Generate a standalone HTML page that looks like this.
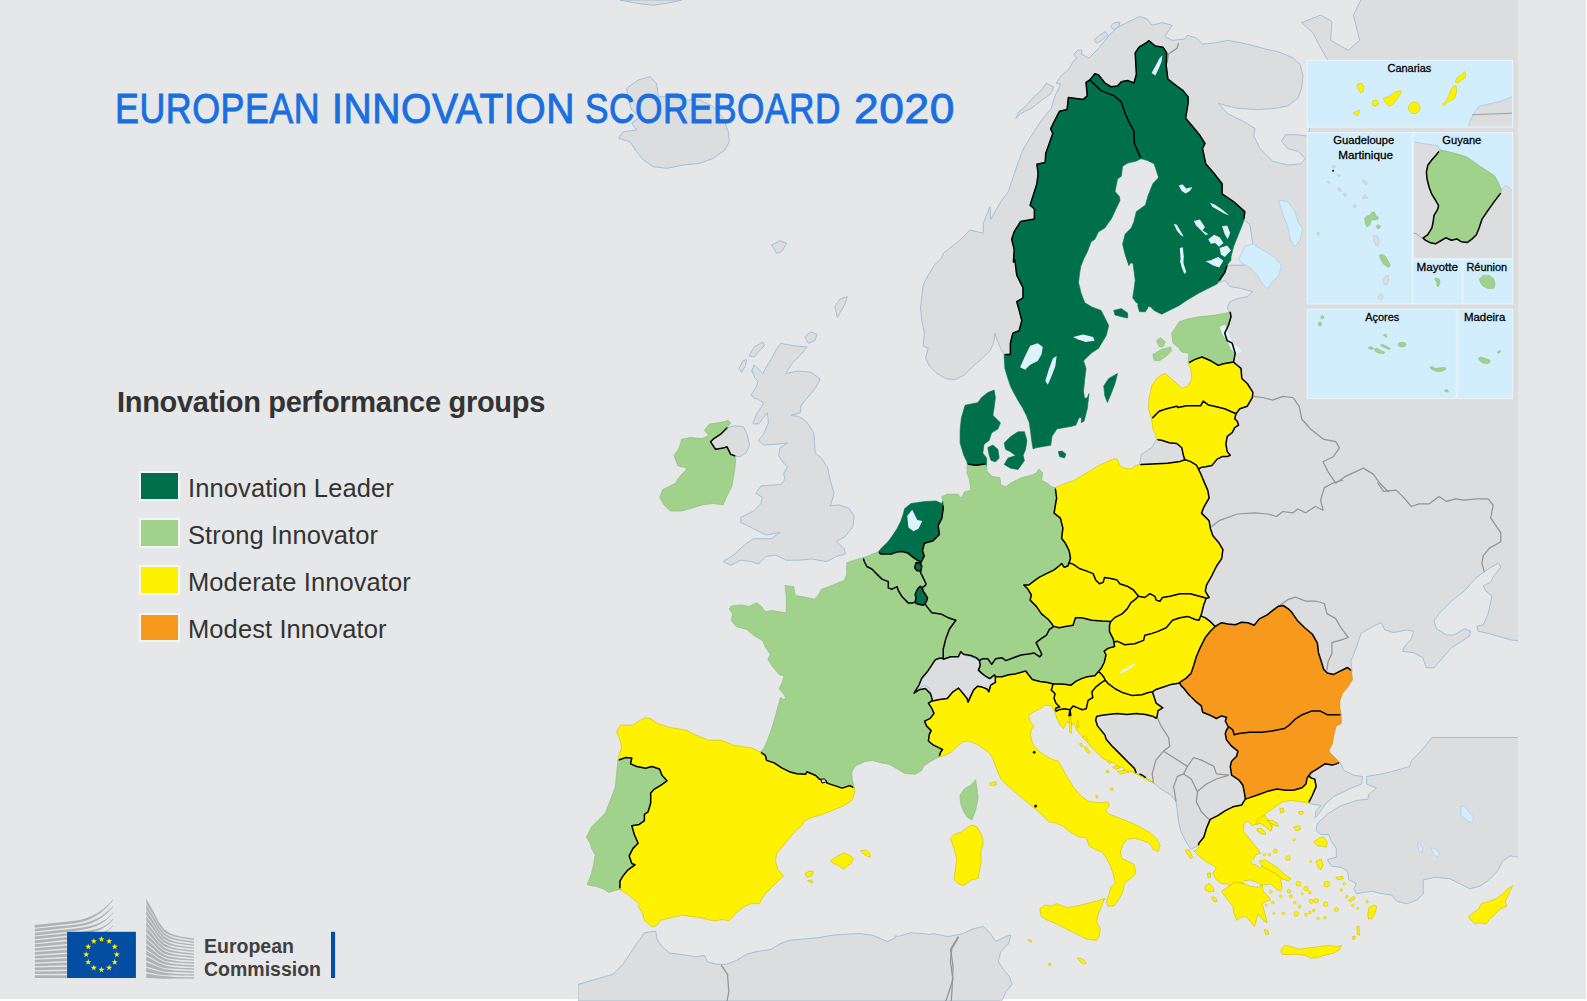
<!DOCTYPE html>
<html><head><meta charset="utf-8"><title>European Innovation Scoreboard 2020</title>
<style>
html,body{margin:0;padding:0;background:#fff;}
body{width:1587px;height:1001px;overflow:hidden;position:relative;font-family:"Liberation Sans",sans-serif;}
#bg{position:absolute;left:0;top:0;width:1586px;height:999px;background:#e6e7e8;}
svg{position:absolute;left:0;top:0;}
.tw{position:absolute;top:85px;font-size:41.6px;line-height:48px;color:#1a6fe0;white-space:nowrap;transform-origin:0 0;-webkit-text-stroke:0.9px #1a6fe0;letter-spacing:0.6px;}
#sub{position:absolute;left:117px;top:385px;font-size:29px;line-height:34px;font-weight:bold;color:#333;white-space:nowrap;letter-spacing:-0.3px;}
.lg{position:absolute;left:139px;width:37px;height:25.5px;border:2px solid #f4f5f5;}
.lt{position:absolute;left:188px;font-size:25.5px;line-height:30px;color:#333;white-space:nowrap;letter-spacing:0.1px;}
#ec{position:absolute;left:204px;top:935px;font-size:19.5px;line-height:23px;color:#404040;font-weight:bold;white-space:nowrap;}
</style></head><body>
<div id="bg"></div>
<svg width="1587" height="1001" viewBox="0 0 1587 1001">
<defs><clipPath id="mc"><rect x="578" y="0" width="940" height="1001"/></clipPath></defs>
<g clip-path="url(#mc)">
<path d="M620,0 L636.7,3.3 L653.3,5.3 L670,2.7 L681.7,0ZM623.3,131.7 L618.3,138.3 L630,141.7 L636.7,151.7 L643.3,160 L653.3,166.7 L666.7,168.3 L683.3,165 L700,163.3 L713.3,158.3 L725,150 L729.3,141.7 L728.3,131.7 L723.3,118.3 L713.3,106.7 L700,100 L683.3,100 L670,96.7 L658.3,96.7 L656.7,83.3 L650,76.7 L638.3,80 L626.7,88.3 L628.3,100 L631.7,110 L640,116.7 L631.7,123.3 L636.7,130ZM776.7,253.3 L781.7,251.7 L786.7,243.3 L780,240.7 L771.7,245ZM839.9,299.1 L834.8,306.7 L837.4,317.5 L839.9,313 L844.9,304.2 L847.4,296.6ZM808.4,343.3 L814.7,340.7 L817.2,334.4 L810.9,331.9 L804.6,337ZM749.1,355.9 L754.2,357.1 L759.2,350.8 L764.3,345.8 L763,342 L754.2,347ZM739.1,368.5 L741.6,372.2 L745.4,365.9 L746.6,359.6 L742.8,360.9ZM751.7,371 L755.5,378.5 L758.1,381.2 L755.9,387.6 L752.3,393 L751.7,393.7 L751.8,393.8 L750.9,395.1 L753,396.4 L754.2,398.7 L756.9,398.7 L763.5,402.7 L761.3,407 L756.7,413.8 L754.5,419.5 L753.4,421.6 L753.7,421.8 L752.9,423.9 L756.7,423.9 L757,423.4 L758.5,424.1 L767.3,412.8 L768.5,422.8 L763.5,434.2 L758.5,440.5 L763.5,445 L776.1,444.3 L787.4,443 L779.9,448.1 L778.6,455.6 L783.7,463.2 L787.4,467 L783.7,473.3 L784.9,479.6 L781.1,484.6 L761,485.9 L755.9,493.4 L762.2,497.2 L761,503.5 L753.4,511.1 L740.8,517.4 L740.8,522.4 L753.4,528.7 L766,535 L779.9,532.5 L771.1,538.8 L753.4,538.8 L745.9,543.8 L733.3,555.2 L723.2,561.5 L730.7,565.3 L740.8,560.2 L750.9,561.5 L758.5,564 L766,556.4 L776.1,555.2 L786.2,560.2 L798.8,560.2 L811.4,559 L826.5,561.5 L836.6,556.4 L845.4,553.9 L844.2,548.9 L836.6,541.3 L845.4,536.3 L853,526.2 L854.2,516.1 L849.2,508.5 L839.1,504.8 L830.3,506 L834.1,493.4 L830.3,480.8 L827.8,468.2 L821.5,458.1 L815.2,453.1 L813.9,432.9 L806.4,421.6 L798.8,416.5 L791.2,415.3 L800.1,412.8 L801.3,405.2 L806.4,398.9 L813.9,390.1 L814.7,388.8 L815.9,387.4 L816.6,385.8 L820.2,380 L819.1,380 L819.7,378.5 L810.9,372.2 L798.3,371 L785.7,373.5 L788.2,369.7 L792,363.4 L799.6,355.9 L807.1,347 L793.3,345.8 L780.7,343.3 L775.6,350.8 L771.8,358.4 L766.8,365.9 L763,373.5 L754.2,364.7ZM727,446.8 L730.7,454.4 L735.8,456.1 L739.6,456.9 L745.9,453.1 L749.6,445.5 L747.1,434.2 L743.3,426.6 L734.5,425.9 L727,427.9 L720.7,434.2 L713.1,439.2 L710.6,441.8 L715.6,449.3 L723.2,448.1ZM826.6,781.8 L824.6,778.8 L820.8,779.3 L822,783.1ZM1005.9,991.9 L1012.2,984.3 L1009.6,976.8 L1003.3,969.2 L998.3,961.6 L1000.8,951.6 L1008.4,944 L1010.9,935.2 L1005.9,936.4 L995.8,941.5 L990.7,933.9 L983.2,926.4 L973.1,928.9 L970,930.4 L970,930.3 L963.2,933.6 L949.1,936.4 L947.1,936.4 L932.9,933.6 L929.5,934.6 L925.2,933.9 L910.1,932.7 L907.6,933.6 L898.7,936.3 L895,936 L895,937.9 L887.6,941.6 L872.5,935.3 L859.9,933.6 L847.3,934.1 L832.1,935.3 L817,937.9 L801.9,939.1 L789.3,940.4 L779.2,944.2 L771.6,949.2 L764.1,950.5 L756.5,951.7 L746.4,954.2 L736.4,960.5 L726.3,964.3 L716.2,964.3 L707.4,961.8 L704.8,955.5 L696,956.8 L688.5,955.5 L678.4,954.2 L669.6,953 L662,946.7 L657,939.1 L655.7,931.1 L644.4,932.8 L633,949.2 L622.9,964.3 L612.8,974.4 L595.2,979.4 L578.1,984.5 L578,1001 L895,1001 L970,1001 L1000,1001 L1000.8,1002 L1003.3,998.2ZM1113.7,29.7 L1116.7,27.8 L1109.2,35.3 L1099.1,47.9 L1089,58 L1081.6,54.3 L1082,49.9 L1077.7,50.4 L1073.9,54.2 L1076.7,58.2 L1073.9,60.5 L1068.4,69.7 L1061.3,75.6 L1056.3,83.2 L1060.8,84.3 L1055,95.8 L1051.2,108.4 L1041.1,121 L1031.1,136.1 L1023.5,148.7 L1018.5,161.3 L1013.4,176.4 L1008.4,191.6 L1000.8,201.6 L990.7,219.3 L990,206.7 L983.3,223.3 L983.3,233.3 L970,230 L960,240 L943.3,253.3 L942,257.6 L934.4,265.1 L928.1,275.2 L923.1,285.3 L921.8,296.6 L920.5,308 L921.8,320.6 L924.3,333.2 L923.1,345.8 L928.1,348.3 L925.6,358.4 L929.4,365.9 L936.9,373.5 L945.7,378.5 L954.6,379.8 L964.7,374.8 L973.5,365.9 L982.3,358.4 L989.9,350.8 L993.6,343.3 L994.9,333.2 L997.4,340.7 L1001.2,349.6 L1004.2,354.3 L1035,386 L1050,300 L1090,200 L1141,140 L1185,150 L1212.2,189.6 L1250,224.9 L1255.6,265.2 L1212.2,265.2 L1219.8,282.8 L1224.8,280.3 L1229.8,286.6 L1241.2,288.4 L1252.5,291.7 L1247.5,296.7 L1237.4,298.5 L1229.8,301.8 L1227.3,308.1 L1229.8,312.6 L1217.2,335.8 L1202.1,381.1 L1192,416.4 L1156.6,439.5 L1151.6,447.8 L1141.5,454.1 L1139.5,464.7 L1161.6,486.8 L1166,625.2 L1191.2,663 L1166,663 L1123.2,700.8 L1090.4,717.2 L1110.6,755 L1132,770.9 L1153.4,782.7 L1161,789 L1171.1,795.3 L1176.1,801.6 L1177.4,811.7 L1178.6,821.8 L1181.1,831.9 L1186.2,842 L1191.2,849.5 L1216.4,834.4 L1254.2,814.2 L1266.8,776.4 L1266.8,713.4 L1221.4,668 L1266.8,675.6 L1329.9,680.7 L1352.1,671.6 L1350.8,661.5 L1355.9,648.9 L1360.9,633.7 L1371,627.4 L1381.1,622.4 L1384.9,630 L1393.7,632.5 L1406.3,630 L1413.8,631.2 L1411.3,638.8 L1403.8,647.6 L1402.5,651.4 L1413.8,652.7 L1422.7,657.7 L1426.4,667.8 L1434,667.8 L1441.6,659 L1451.7,647.6 L1461.7,641.3 L1469.3,636.3 L1470.6,631.2 L1464.3,628.7 L1454.2,635 L1446.6,635 L1436.5,628.7 L1434,621.1 L1439,613.6 L1451.7,601 L1464.3,590.9 L1476.9,577 L1489.5,568.2 L1498.3,563.2 L1500.8,567 L1493.2,577 L1490.7,582.1 L1483.2,585.9 L1485.7,590.9 L1492,595.9 L1488.2,613.6 L1483.2,624.9 L1476.9,626.2 L1478.1,631.2 L1489.5,633.7 L1502.1,637.5 L1512.1,640.1 L1521,640.9 L1521,0 L1521,-0.3 L1520.9,-0.6 L1520.9,-0.9 L1520.8,-1.1 L1520.6,-1.4 L1520.5,-1.7 L1520.3,-1.9 L1520.1,-2.1 L1519.9,-2.3 L1519.7,-2.5 L1519.7,-2.5 L1362.2,-2.5 L1353.4,15.1 L1359.7,40.3 L1348.3,50.4 L1330.7,40.3 L1331.9,21.4 L1320.6,15.1 L1301.7,22.7 L1313,32.8 L1320.6,47.9 L1328.1,60.5 L1318.1,100.8 L1307.5,136.1 L1297.9,134.8 L1285.3,134.8 L1281.5,141.1 L1287.8,148.7 L1297.9,151.2 L1305.5,158.8 L1300.4,163.8 L1287.8,165.1 L1272.7,161.3 L1260.1,148.7 L1253.8,136.1 L1255.1,128.5 L1242.5,121 L1227.3,113.4 L1218.5,103.3 L1227.3,105.9 L1237.4,108.4 L1257.6,109.6 L1275.2,108.4 L1287.8,105.9 L1297.9,98.3 L1301.7,88.2 L1302.9,75.6 L1300,64.3 L1293.2,58 L1278.1,51.7 L1265.5,49.1 L1247.8,44.1 L1227.7,40.3 L1215.1,42.8 L1202.5,44.1 L1196.2,37.8 L1187.3,35.3 L1184.8,39.1 L1172.2,40.3 L1164.7,36.5 L1172.2,25.2 L1162.1,22.7 L1152,25.2 L1147,18.9 L1139.4,16.4 L1126.8,22.7 L1117.2,27.5 L1118.8,26.5 L1119.8,22.2 L1114.2,22.7 L1110.5,26.5ZM1094.1,40.3 L1096.6,43.4 L1101.6,40.3 L1107.9,35.3 L1105.4,31.5 L1099.1,35.3ZM1046.2,83.2 L1041.1,90.7 L1033.6,97 L1026,105.9 L1018.5,112.2 L1015.9,118.5 L1021,113.4 L1031.1,108.4 L1041.1,100.8 L1051.2,93.3 L1053.7,87ZM918.9,680.5 L916.1,685.2 L913.2,692.8 L918,689 L924.6,685.2 L929.3,688.1 L931.2,696.6 L931.2,701.3 L939.7,699.4 L947.3,698.4 L952.9,691.8 L958.6,688.1 L962.4,692.8 L967.1,698.4 L968.1,702.2 L970.9,695.6 L973.7,689.9 L977.5,686.2 L982.2,687.1 L987,689 L988.8,691.8 L990.7,685.2 L995.5,682.4 L994.5,674.8 L989.8,678.6 L985.1,675.8 L981.3,672.9 L978.4,670.1 L980.3,665.4 L979.4,660.6 L975.6,658.8 L970.9,656.9 L964.3,655 L963.3,652.1 L960.5,652.1 L956.7,655 L949.1,655.9 L943.5,657.8 L937.8,659.7 L934,658.8 L933.1,662.5 L928.4,667.3 L923.6,674.8ZM1326.2,803 L1333.7,796.7 L1341.3,792.9 L1351.4,787.9 L1361.5,784.1 L1362.7,776.5 L1353.9,775.3 L1343.8,770.2 L1340.1,762.7 L1323.7,765.2 L1313.6,770.2 L1309.8,777.8 L1314.8,779.1 L1316.1,786.6 L1312.3,795.5 L1308.5,803 L1313.6,804.3 L1321.1,805.5 L1316.1,810.6 L1314.8,818.1 L1317.4,815.6ZM1341.3,805.5 L1328.7,813.1 L1317.4,823.2 L1316.1,830.7 L1321.1,834.5 L1328.7,834.5 L1331.2,840.8 L1336.3,848.4 L1336.3,857.2 L1327.4,859.7 L1331.2,866 L1341.3,867.3 L1347.6,871.1 L1348.9,879.9 L1356.4,883.7 L1353.9,888.7 L1356.4,893.7 L1364,892.5 L1371.6,891.2 L1381.6,893.7 L1391.7,895 L1396.8,901.3 L1406.8,903.8 L1416.9,900.1 L1423.2,893.7 L1423.2,879.9 L1434.6,877.4 L1449.7,878.6 L1459.8,883.7 L1469.9,888.7 L1479.9,886.2 L1487.5,881.1 L1497.6,871.1 L1502.6,861 L1510.2,855.9 L1521,857.7 L1521,737.5 L1432,737.5 L1422,750.1 L1411.9,760.2 L1409.4,766.5 L1396.8,770.2 L1381.6,774 L1366.5,776.5 L1366.5,784.1 L1376.6,787.9 L1369,794.2 L1367.8,799.2 L1356.4,800.5Z" fill="#dcddde" stroke="#9bbdd4" stroke-width="0.9" stroke-linejoin="round"/>
<path d="M1253.8,396.3 L1262.6,397.5 L1272.7,400.1 L1282.8,396.3 L1292.9,397.5 L1299.2,406.4 L1301.7,419 L1310.5,429 L1323.1,439.1 L1335.7,441.6 L1339.5,447.9 L1333.2,456.8 L1323.1,461.8 L1328.1,471.9 L1335.7,483.2 L1344.5,476.9 L1363.4,468.1 L1373.5,474.4 L1379.8,483.2 L1388.6,492" fill="none" stroke="#949494" stroke-width="1.25" stroke-linejoin="round"/>
<path d="M1209.7,527.9 L1219.8,520.3 L1237.4,514 L1255.1,512.8 L1267.7,514 L1276.5,516.5 L1282.8,511.5 L1292.9,512.8 L1297.9,509 L1305.5,512.8 L1315.5,506.5 L1323.1,510.2 L1320.6,500.2 L1324.4,487.6 L1334.4,482.5 L1343.3,480" fill="none" stroke="#949494" stroke-width="1.25" stroke-linejoin="round"/>
<path d="M1377.3,482.5 L1383.6,491.3 L1396.2,490.1 L1403.8,497.6 L1411.3,506.5 L1418.9,503.9 L1429,503.9 L1439,496.4 L1446.6,501.4 L1455.4,498.9 L1464.3,500.2 L1476.9,498.9 L1488.2,498.9 L1493.2,505.2 L1490.7,517.8 L1495.8,525.4 L1500.8,532.9 L1500.8,541.8 L1489.5,548.1 L1483.2,555.6 L1481.9,563.2 L1484.4,572" fill="none" stroke="#949494" stroke-width="1.25" stroke-linejoin="round"/>
<path d="M1280.3,604.8 L1287.8,599.7 L1295.4,597.2 L1305.5,601 L1315.5,601 L1324.4,603.5 L1326.9,613.6 L1335.7,618.6 L1340.7,627.4 L1348.3,637.5 L1340.7,640.1 L1331.9,642.6 L1331.9,653.9 L1328.1,661.5 L1326.9,670.3" fill="none" stroke="#949494" stroke-width="1.25" stroke-linejoin="round"/>
<path d="M1157.2,717.2 L1161,726 L1168.5,737.4 L1169.8,746.2 L1163.5,751.2 L1155.9,760.1 L1152.2,773.9 L1153.4,782.7" fill="none" stroke="#949494" stroke-width="1.25" stroke-linejoin="round"/>
<path d="M1163.5,751.2 L1173.6,757.5 L1187.4,766.4 L1183.7,773.9 L1177.4,776.4 L1173.6,786.5 L1176.1,801.6" fill="none" stroke="#949494" stroke-width="1.25" stroke-linejoin="round"/>
<path d="M1187.4,766.4 L1193.7,757.5 L1201.3,760.1 L1213.9,766.4 L1216.4,773.9 L1229,775.2" fill="none" stroke="#949494" stroke-width="1.25" stroke-linejoin="round"/>
<path d="M1183.7,773.9 L1191.2,779 L1197.5,791.6 L1196.3,801.6 L1201.3,811.7 L1208.9,819.3" fill="none" stroke="#949494" stroke-width="1.25" stroke-linejoin="round"/>
<path d="M1197.5,791.6 L1206.4,784 L1216.4,779 L1229,775.2" fill="none" stroke="#949494" stroke-width="1.25" stroke-linejoin="round"/>
<path d="M1167.2,63 L1168.4,54.2 L1177.3,47.9 L1178.5,42.8" fill="none" stroke="#949494" stroke-width="1.25" stroke-linejoin="round"/>
<path d="M958.5,937.2 L951.7,949 L950.4,961.6 L952.9,979.3 L946.6,999.4 L945.4,1001" fill="none" stroke="#949494" stroke-width="1.25" stroke-linejoin="round"/>
<path d="M721.2,965.1 L727.5,974.4 L728.8,992 L726.8,1002.1" fill="none" stroke="#949494" stroke-width="1.25" stroke-linejoin="round"/>
<path d="M958.2,936.6 L950.6,949.2 L953.1,966.8 L951.9,992 L951.1,1002.1" fill="none" stroke="#949494" stroke-width="1.25" stroke-linejoin="round"/>
<path d="M1238.7,258.9 L1245,246.3 L1252.5,243.8 L1262.6,250.1 L1275.2,257.6 L1281.5,265.2 L1279,275.3 L1272.7,281.6 L1267.7,289.1 L1262.6,284.1 L1257.6,275.3 L1250,267.7 L1242.5,263.9Z" fill="#d2eefc" stroke="#a9c6d8" stroke-width="0.6"/>
<path d="M1278.8,200.2 L1287.7,201.5 L1295.2,211.6 L1297.7,221.6 L1302.8,229.2 L1300.3,239.3 L1295.2,246.8 L1290.2,239.3 L1287.7,226.7 L1282.6,214.1Z" fill="#d2eefc" stroke="#a9c6d8" stroke-width="0.6"/>
<path d="M1461,806.8 L1464.8,806 L1469.9,813.1 L1473.6,816.9 L1472.4,823.2 L1467.3,820.7 L1461,815.6Z" fill="#d2eefc" stroke="#a9c6d8" stroke-width="0.6"/>
<path d="M1417.4,842.1 L1419.9,843.3 L1422.5,848.4 L1422,852.9 L1418.9,850.9Z" fill="#d2eefc" stroke="#a9c6d8" stroke-width="0.6"/>
<path d="M1430.8,847.9 L1434.6,848.4 L1439.6,853.4 L1437.1,857.2 L1433.3,853.4Z" fill="#d2eefc" stroke="#a9c6d8" stroke-width="0.6"/>
<path d="M920.2,586.4 L919.9,586.7 L919.8,586.7 L919.7,586.8 L919.8,586.8 L918.1,588.2 L916.4,591.3 L915.1,594.8 L915.4,595.7 L914.7,599.3 L915.9,602.8 L915.4,600.8 L916,603.1 L912.7,603.1 L912.9,603.9 L916.6,604.9 L926.6,606.6 L926.6,606.6 L926.8,606.4 L926.8,606.4 L928.1,600.1 L927.4,598.1 L927.5,597.8 L927.2,597.2 L926,593.7 L924.3,588.7 L925.1,586.4 L925,586.2 L925,586.1 L924.8,586.7 L920.7,586.7 L922.2,587.7Z" fill="#00704a" stroke="#00704a" stroke-width="0.6" stroke-linejoin="round"/>
<path d="M980.2,664.9 L980.2,665.1 L980.2,665.2 L980.2,665.4 L980.2,665.5 L980.2,665.7 L980.1,665.8 L980.3,665.4 L978.4,670.1 L981.3,672.9 L985.1,675.8 L989.8,678.6 L994.5,674.8 L995.5,676.7 L1002.1,676.7 L1008.7,674.8 L1015.3,673.9 L1025.7,671 L1028.5,674.8 L1032.3,679.5 L1039.9,681.4 L1047.4,682.4 L1053.5,683.9 L1058.8,683.9 L1064.5,684.3 L1071.1,685.2 L1075.8,681.4 L1081.5,678.6 L1087.1,676.7 L1094.7,675.8 L1098.5,671.4 L1099.3,672.1 L1099.2,671.8 L1100.2,669.4 L1101.3,668.2 L1104.2,662.5 L1106,655 L1104.2,651.2 L1105.3,653.5 L1106,650.4 L1109.9,647.8 L1114.6,646.5 L1113.6,640.8 L1113.5,640.5 L1117.2,642.8 L1116.9,640.9 L1113.3,639.1 L1109.5,631.6 L1109.5,625.3 L1110.8,621.5 L1102,621 L1091.9,620.2 L1081.8,617.7 L1075.5,617.7 L1073,625.3 L1065.4,626.5 L1059.1,627.8 L1054.1,626.4 L1051.8,627.9 L1047.8,630.3 L1046.6,634.9 L1046.5,635.1 L1040.8,638.9 L1045.3,635.9 L1039,639.1 L1037.1,641.9 L1036.1,642.7 L1038.9,648.4 L1041.8,654 L1039.9,656.9 L1034.2,653.1 L1028.5,654 L1021,655 L1013.4,657.8 L1005.9,660.6 L1002.1,657.8 L995.5,658.8 L991.7,664.4 L993.2,662.2 L991.4,664 L987.9,658.8 L982.2,658.8 L981.4,659.3 L979.7,659.3 L978.5,658.8 L978.6,658.8 L978.8,658.9 L978.9,659 L979,659.1 L979.1,659.3 L979.2,659.4 L979.3,659.5 L979.3,659.7 L979.4,659.8 L979.4,660 L979.4,660.2 L979.4,660.3 L979.4,660.5 L979.4,660.5 L979.4,660.6 L980.4,660 L979.4,660.6ZM992.8,676.3 L993,676.3 L993.1,676.2 L993.3,676.2 L993.4,676.2 L993.6,676.3 L993.7,676.3 L993.9,676.4 L994,676.4 L994.2,676.5 L994.3,676.6 L994.4,676.7 L994.5,676.8 L994.6,676.9 L994.7,677 L994.7,677.2 L994.8,677.3 L994.8,677.5 L994.9,677.6 L994.6,675.3 L994.8,675.4 L994.5,674.8 L992.3,676.6 L992.4,676.5 L992.5,676.4 L992.7,676.4ZM1039.9,656.9 L1040.3,656.2 L1036.4,654.2 L1035.9,654.2ZM1041.8,654 L1041.5,653.4 L1041.5,654.5Z" fill="#a0d28c" stroke="#86b878" stroke-width="0.6" stroke-linejoin="round"/>
<path d="M1087.1,676.7 L1081.5,678.6 L1075.8,681.4 L1071.1,685.2 L1064.5,684.3 L1058.8,683.9 L1053.5,683.9 L1051.2,689.9 L1055,693.7 L1054.1,698.4 L1056,703.2 L1059.7,707 L1056,707.9 L1055,711.7 L1058.8,709.8 L1064.5,708.8 L1070.1,709.8 L1073,706 L1077.7,707.9 L1082.4,709.8 L1086.2,708.8 L1088.1,700.3 L1092.8,697.5 L1091.9,691.8 L1095.7,687.1 L1100.4,683.3 L1105.1,680.1 L1104.2,677.7 L1101.3,673.9 L1099.3,672.1 L1099.2,671.8 L1100.2,669.4 L1098.5,671.4 L1094.7,675.8ZM1054.9,711.8 L1055,712 L1055,712.1 L1055,712.3 L1055,711.7 L1054.6,711.2 L1054.7,711.4 L1054.8,711.5 L1054.9,711.7Z" fill="#fff200" stroke="#c9c000" stroke-width="0.6" stroke-linejoin="round"/>
<path d="M1105.1,680.1 L1100.4,683.3 L1095.7,687.1 L1091.9,691.8 L1092.8,697.5 L1088.1,700.3 L1086.2,708.8 L1082.4,709.8 L1077.7,707.9 L1073,706 L1070.1,709.8 L1064.5,708.8 L1058.8,709.8 L1055,711.7 L1054.6,711.2 L1054.7,711.4 L1054.8,711.5 L1054.9,711.7 L1054.9,711.8 L1055,712 L1055,712.1 L1055,712.3 L1055,712.6 L1056.9,718.3 L1060.7,725.9 L1063.5,728.7 L1066.4,723 L1066.5,722.9 L1066.6,722.8 L1066.7,722.6 L1066.8,722.5 L1066.9,722.4 L1067,722.3 L1067.2,722.3 L1067.3,722.2 L1067.5,722.2 L1067.6,722.2 L1067.8,722.1 L1067.9,722.1 L1068.1,722.2 L1068.2,722.2 L1068.4,722.3 L1068.5,722.3 L1068.7,722.4 L1068.8,722.5 L1068.9,722.6 L1069,722.7 L1069.1,722.8 L1069.2,723 L1069.3,723.1 L1069.3,723.2 L1069.4,723.4 L1069.4,723.5 L1069.4,723.7 L1069.4,723 L1069.2,716.4 L1070.7,716.8 L1071.6,725.8 L1071.6,725.6 L1071.6,725.5 L1071.6,725.3 L1071.6,725.2 L1071.7,725 L1071.8,724.9 L1071.8,724.7 L1071.9,724.6 L1072,724.5 L1072.1,724.4 L1072.3,724.3 L1072.4,724.2 L1072.5,724.2 L1072.7,724.1 L1072.8,724.1 L1073,724 L1073.1,724 L1073.3,724 L1073.4,724 L1073.6,724.1 L1073.7,724.1 L1073.9,724.2 L1074,724.3 L1074.1,724.3 L1074.3,724.4 L1074.4,724.6 L1074.5,724.7 L1074.6,724.8 L1074.6,724.9 L1074.7,725.1 L1074.7,725.2 L1074.9,725.9 L1077.7,731.5 L1081.4,735.2 L1081.5,735.4 L1082.8,736.9 L1082.9,737 L1083,737.1 L1083,737.2 L1082.9,737.1 L1085.4,740.1 L1085.3,740 L1085.4,740.1 L1085.6,740.2 L1086.2,741 L1090.9,746.7 L1096.6,752.3 L1096.6,752.3 L1102.3,758 L1106.7,760.2 L1106.9,760.3 L1107,760.4 L1107.1,760.5 L1107.2,760.6 L1107.3,760.7 L1107.4,760.8 L1107.5,761 L1107.5,761.1 L1107.6,761.3 L1107.6,761.4 L1107.6,761.4 L1108.4,761 L1111.7,762.2 L1111,762.7 L1111.1,762.6 L1111.2,762.6 L1111.4,762.5 L1111.5,762.5 L1111.7,762.4 L1111.8,762.4 L1112,762.4 L1112.1,762.4 L1112.3,762.5 L1112.4,762.5 L1115,763.5 L1115.1,763.6 L1115.3,763.6 L1115.4,763.7 L1115.5,763.8 L1115.6,764 L1115.7,764.1 L1115.8,764.2 L1115.9,764.3 L1115.9,764.5 L1116,764.6 L1116,764.8 L1116,764.9 L1116,765.1 L1116,765.3 L1116,765.4 L1115.9,765.6 L1115.9,765.7 L1115.8,765.8 L1115.7,766 L1115.6,766.1 L1115.5,766.2 L1115.4,766.3 L1115.3,766.4 L1115.1,766.5 L1115,766.5 L1114.8,766.6 L1117.4,765.9 L1120.2,767.4 L1120.2,767.4 L1120.2,767.4 L1120.3,767.3 L1120.4,767.2 L1120.5,767.1 L1120.6,767 L1120.8,766.9 L1120.9,766.9 L1121.1,766.8 L1121.2,766.8 L1121.4,766.8 L1121.6,766.8 L1121.7,766.8 L1121.9,766.8 L1122,766.9 L1122.2,766.9 L1123.1,767.4 L1123.1,767.4 L1123.5,767.6 L1123.6,767.7 L1123.8,767.8 L1123.9,767.9 L1124,768 L1124.1,768.1 L1124.2,768.2 L1124.2,768.4 L1124.3,768.5 L1124.3,768.7 L1124.4,768.8 L1124.4,769 L1124.4,769.2 L1124.3,769.3 L1124.3,769.5 L1124.2,769.6 L1124.2,769.8 L1124.1,769.9 L1124,770 L1123.9,770.1 L1123.8,770.2 L1123.7,770.3 L1123.5,770.4 L1123.4,770.5 L1123.2,770.6 L1123.1,770.6 L1122.9,770.6 L1125.9,770.3 L1128.7,772.2 L1128.7,772.2 L1128.7,772.1 L1128.7,772.1 L1128.8,772 L1128.9,771.9 L1129,771.7 L1129.1,771.6 L1129.2,771.5 L1129.3,771.4 L1129.5,771.4 L1129.6,771.3 L1129.7,771.3 L1129.9,771.2 L1130,771.2 L1130.2,771.2 L1130.4,771.2 L1130.5,771.2 L1130.7,771.3 L1130.8,771.3 L1130.9,771.4 L1135.3,773.7 L1141,776.5 L1141,776.5 L1147.6,780.3 L1154.3,783.5 L1147.6,778.8 L1142,775 L1137,773.3 L1136.9,773.3 L1136.7,773.2 L1136.6,773.1 L1136.5,773 L1136.4,772.9 L1136.3,772.8 L1136.2,772.7 L1136.1,772.6 L1136,772.4 L1134.4,768.4 L1128.7,762.7 L1123.1,757.1 L1117.4,751.4 L1111.7,745.7 L1111.7,745.7 L1106.3,739.4 L1106.2,739.3 L1106.1,739.1 L1106,739 L1106,738.9 L1105.9,738.7 L1105.1,735.3 L1101.3,730.6 L1097.7,726.1 L1097.6,726 L1097.5,725.9 L1097.5,725.8 L1097.4,725.6 L1095.8,720.6 L1095.8,720.5 L1095.8,720.3 L1095.8,720.1 L1095.8,719.9 L1095.8,719.8 L1096.4,717.4 L1096.4,717.2 L1096.5,717.1 L1096.6,716.9 L1096.6,716.8 L1096.7,716.7 L1096.9,716.5 L1097,716.4 L1097.1,716.4 L1097.3,716.3 L1097.4,716.2 L1097.6,716.2 L1100.3,715.5 L1100.5,715.5 L1107.9,714.5 L1107.9,714.5 L1117.2,713.6 L1117.4,713.6 L1117.6,713.6 L1126.8,714.5 L1136.1,713.6 L1136.3,713.6 L1136.5,713.6 L1145.6,714.5 L1145.7,714.5 L1145.8,714.5 L1153,716.3 L1153.2,716.4 L1153.3,716.4 L1153.4,716.5 L1153.5,716.6 L1156.1,718.3 L1157.1,716.4 L1157.9,711.4 L1157.9,711.3 L1158,711.1 L1158,711 L1158.1,710.9 L1158.2,710.7 L1158.3,710.6 L1158.4,710.5 L1158.5,710.4 L1158.7,710.3 L1162.8,707.9 L1156.5,703.5 L1156.4,703.4 L1156.3,703.3 L1156.2,703.2 L1156.1,703.1 L1156.1,703 L1156,702.8 L1155.9,702.7 L1154.3,697.5 L1152.8,693 L1152.8,692.9 L1152.7,692.7 L1152.7,692.5 L1152.7,692.4 L1152.7,692.2 L1152.8,692.1 L1152.8,691.9 L1152.9,691.8 L1153,691.6 L1153.1,691.5 L1153.2,691.4 L1153.3,691.3 L1153.4,691.2 L1152.4,691.9 L1152.4,691.8 L1147.6,692.8 L1142,694.7 L1132.6,695.6 L1125.7,693.3 L1118.1,689.5 L1111.8,685.7 L1108.2,683.5 L1107.9,683.3ZM1118.4,768.3 L1118.5,768.2 L1118.6,768.1 L1118.8,768 L1118.9,767.9 L1119,767.9 L1117.8,768.4 L1118.2,768.6 L1118.3,768.5Z" fill="#fff200" stroke="#c9c000" stroke-width="0.6" stroke-linejoin="round"/>
<path d="M951,752.3 L956.7,746.7 L956.7,746.7 L962.1,742.2 L962.2,742.1 L962.3,742 L962.4,742 L962.6,741.9 L962.7,741.9 L962.8,741.8 L967.7,741.1 L967.9,741 L968,741 L968.2,741.1 L968.3,741.1 L968.5,741.1 L973.6,742.9 L973.8,742.9 L979.2,745.6 L979.4,745.7 L979.5,745.8 L984.1,749.5 L988.5,752.1 L988.6,752.2 L988.7,752.3 L988.8,752.4 L988.9,752.5 L989,752.6 L992.5,757.8 L992.6,757.9 L992.6,758.1 L992.7,758.2 L993.3,760 L997,770.1 L1000.8,778.9 L1008.4,786.5 L1015.9,792.8 L1023.5,799.1 L1031.1,805.4 L1031.1,805.4 L1039.8,812.9 L1039.9,812.9 L1048.7,821.8 L1056.1,823 L1056.2,823 L1056.4,823 L1056.5,823.1 L1063.6,826.7 L1063.8,826.8 L1063.9,826.9 L1071.4,833.1 L1079,836.9 L1085.5,837.9 L1085.7,838 L1085.8,838 L1086,838.1 L1086.1,838.2 L1086.3,838.3 L1086.4,838.4 L1086.5,838.5 L1086.6,838.6 L1086.7,838.7 L1086.7,838.9 L1086.8,839 L1089,845.7 L1095.3,849.5 L1101.2,851.8 L1101.4,851.9 L1101.5,852 L1101.6,852.1 L1101.8,852.2 L1101.9,852.3 L1106.6,858.2 L1106.7,858.3 L1106.8,858.5 L1110.4,865.8 L1110.5,866 L1113,873.3 L1113,873.5 L1115.2,882.5 L1115.3,882.6 L1115.3,882.8 L1115.3,882.9 L1115.3,883.1 L1115.2,883.2 L1115.2,883.4 L1115.1,883.5 L1115.1,883.7 L1115,883.8 L1114.9,883.9 L1114.8,884 L1114.7,884.1 L1110.5,887.3 L1109.2,893.5 L1109.2,893.7 L1107.3,899.3 L1107.3,899.4 L1107.2,899.6 L1107.1,899.7 L1107,899.8 L1106.9,899.9 L1106.8,900 L1106.7,900.1 L1106.6,900.2 L1106.6,900.2 L1106.6,900.4 L1106.7,900.5 L1106.7,900.7 L1106.7,900.8 L1106.7,901 L1106.7,901.1 L1106.7,901.1 L1106.7,901.1 L1107.9,906.2 L1114.2,905.7 L1119.3,898.6 L1123.1,891.1 L1124.2,884.1 L1124.2,884 L1124.3,883.8 L1124.3,883.7 L1124.4,883.6 L1124.5,883.4 L1124.6,883.3 L1124.7,883.2 L1124.8,883.1 L1130.6,878.5 L1135.7,873.4 L1134.4,864.6 L1126.8,860.8 L1122.5,858.6 L1122.4,858.6 L1122.2,858.5 L1122.1,858.4 L1122,858.3 L1121.9,858.1 L1121.8,858 L1121.7,857.8 L1121.7,857.7 L1121.6,857.5 L1120.6,852.4 L1120.6,852.3 L1120.6,852.1 L1120.6,851.9 L1120.6,851.8 L1120.6,851.6 L1123,844.6 L1123.1,844.5 L1123.2,844.3 L1123.2,844.2 L1126.4,839.9 L1126.5,839.8 L1126.6,839.7 L1126.7,839.6 L1126.9,839.5 L1127,839.4 L1127.1,839.4 L1127.3,839.3 L1127.4,839.3 L1134,838.2 L1134.2,838.1 L1134.3,838.1 L1134.5,838.1 L1134.6,838.2 L1134.8,838.2 L1143.1,840.7 L1143.3,840.7 L1149,843 L1149.1,843.1 L1149.3,843.1 L1149.4,843.2 L1149.5,843.3 L1149.6,843.4 L1149.7,843.5 L1149.8,843.7 L1153.3,849.5 L1158.3,851.2 L1160.1,845.7 L1157.1,839.4 L1150.8,833.1 L1142,828.1 L1131.9,823 L1119.3,818 L1109.5,814.3 L1109.4,814.3 L1109.2,814.2 L1109.1,814.1 L1109,814 L1106.5,811.5 L1106.4,811.4 L1106.3,811.3 L1106.3,811.2 L1106.2,811 L1106.1,810.9 L1106.1,810.7 L1106.1,810.6 L1106.1,810.4 L1106.1,810.2 L1106.1,810.1 L1106.1,809.9 L1106.2,809.8 L1106.3,809.6 L1106.3,809.5 L1106.4,809.4 L1106.5,809.3 L1109.2,806.6 L1107.9,801.6 L1100.6,802.8 L1100.5,802.8 L1100.3,802.8 L1100.2,802.8 L1089.4,801.6 L1089.2,801.6 L1089.1,801.6 L1088.9,801.5 L1088.8,801.5 L1088.7,801.4 L1081.7,796.6 L1081.6,796.5 L1081.5,796.4 L1081.4,796.3 L1074,787.8 L1073.9,787.7 L1073.8,787.6 L1067.6,777.6 L1067.6,777.6 L1062.6,768.8 L1057.5,760 L1056.7,760.4 L1056.5,760.5 L1056.4,760.6 L1056.2,760.6 L1056.1,760.6 L1055.9,760.6 L1055.8,760.6 L1055.6,760.6 L1055.4,760.6 L1055.3,760.5 L1049.4,758.1 L1049.3,758 L1049.2,757.9 L1041.9,753.4 L1041.7,753.2 L1036.3,748.6 L1036.2,748.5 L1036.1,748.4 L1036,748.3 L1032.5,743.1 L1032.4,743 L1032.3,742.9 L1032.3,742.8 L1032.2,742.6 L1030.5,735.6 L1030.5,735.5 L1030.4,735.3 L1030.4,735.1 L1030.5,735 L1031.3,730 L1031.4,729.8 L1031.4,729.7 L1031.5,729.5 L1031.5,729.4 L1031.6,729.3 L1034.2,725.9 L1030.7,722.4 L1030.6,722.3 L1030.5,722.1 L1030.4,722 L1030.3,721.9 L1030.3,721.7 L1028.8,717.3 L1028.8,717.2 L1028.7,717 L1028.7,716.9 L1028.7,716.7 L1028.8,716.5 L1028.8,716.4 L1028.8,716.2 L1028.9,716.1 L1029,715.9 L1029.1,715.8 L1029.2,715.7 L1032.1,712.8 L1032.2,712.7 L1032.4,712.6 L1032.5,712.5 L1039.9,708.8 L1045.1,705.4 L1045.2,705.4 L1045.4,705.3 L1045.5,705.2 L1045.7,705.2 L1045.9,705.2 L1046,705.2 L1046.2,705.2 L1050.5,705.9 L1050.6,705.9 L1050.8,706 L1050.9,706 L1051,706.1 L1051.2,706.2 L1051.3,706.3 L1051.4,706.4 L1051.5,706.5 L1051.6,706.6 L1054.1,710.7 L1054.6,711.2 L1054.7,711.4 L1054.8,711.5 L1054.9,711.7 L1054.9,711.8 L1055,712 L1055,712.1 L1055,712.3 L1055,711.7 L1056,707.9 L1059.7,707 L1056,703.2 L1054.1,698.4 L1055,693.7 L1051.2,689.9 L1053.5,683.9 L1047.4,682.4 L1039.9,681.4 L1032.3,679.5 L1028.5,674.8 L1025.7,671 L1015.3,673.9 L1008.7,674.8 L1002.1,676.7 L995.5,676.7 L994.8,675.4 L994.5,674.8 L989.8,678.6 L992.3,676.6 L992.4,676.5 L992.5,676.4 L992.7,676.4 L992.8,676.3 L993,676.3 L993.1,676.2 L993.3,676.2 L993.4,676.2 L993.6,676.3 L993.7,676.3 L993.9,676.4 L994,676.4 L994.2,676.5 L994.3,676.6 L994.4,676.7 L994.5,676.8 L994.6,676.9 L994.7,677 L994.7,677.2 L994.8,677.3 L994.8,677.5 L994.9,677.6 L995.4,681.3 L995.4,681.5 L995.4,681.7 L995.4,681.8 L995.3,682 L995.3,682.1 L995.2,682.3 L995.1,682.4 L995,682.5 L994.9,682.6 L994.8,682.8 L994.7,682.9 L994.6,682.9 L990.7,685.2 L989.8,688.4 L989.7,688.6 L989.7,688.7 L989.6,688.8 L989.5,689 L989.4,689.1 L989.3,689.2 L989.2,689.3 L989,689.4 L988.9,689.4 L988.7,689.5 L988.6,689.5 L988.4,689.6 L988.3,689.6 L988.1,689.6 L988,689.6 L987.8,689.5 L987.7,689.5 L987.5,689.4 L987.4,689.3 L987.3,689.3 L987.1,689.2 L987,689 L987,689 L987,689 L982.2,687.1 L977.5,686.2 L973.7,689.9 L970.9,695.6 L969.9,698.1 L969.8,698.2 L969.7,698.3 L969.6,698.5 L969.5,698.6 L969.4,698.7 L969.2,698.8 L969.1,698.9 L969,698.9 L968.8,699 L968.7,699 L968.5,699 L968.3,699 L968.2,699 L968,699 L967.9,699 L967.7,698.9 L967.6,698.8 L967.4,698.7 L967.3,698.6 L967.2,698.5 L967.1,698.4 L967.1,698.4 L962.4,692.8 L962.4,692.8 L958.6,688.1 L952.9,691.8 L947.7,697.9 L947.6,698 L947.5,698.1 L947.4,698.2 L947.2,698.3 L947.1,698.4 L947,698.4 L946.8,698.5 L946.7,698.5 L939.7,699.4 L934.3,700.6 L934.1,700.6 L933.9,700.7 L933.8,700.7 L933.6,700.6 L933.5,700.6 L933.3,700.5 L933.2,700.5 L933.1,700.4 L932.9,700.3 L932.8,700.2 L932.7,700.1 L932.6,700 L932.5,699.8 L932.4,699.7 L932.4,699.6 L932.8,700.9 L931.2,701.3 L928.4,703.2 L932.1,708.8 L933.8,713.1 L933.6,714.1 L930.2,718.3 L924.6,721.1 L926.5,725.9 L930.6,730 L927.9,732.7 L928.8,738 L928.4,741 L933.1,744.8 L934.4,745.5 L941.8,750.3 L941.4,751.1 L940.6,752.3 L939.8,754.4 L938.5,757.1 L938.1,757.3 L938.3,757.2 L938.4,757.2 L938.6,757.1 L938.7,757.1 L938.7,757.1 L938.8,757.1 L938.8,757.1 L938.8,757.1 L945.4,755.2ZM1104.2,898.9 L1104.2,898.8 L1104.2,898.6 L1104.2,898.6 L1103.6,900.3 L1103.7,900.2 L1103.7,900.1 L1103.8,899.9 L1103.9,899.8 L1104,899.7 L1104.1,899.6 L1104.3,899.5 L1104.3,899.5 L1104.3,899.4 L1104.3,899.2 L1104.2,899.1Z" fill="#fff200" stroke="#c9c000" stroke-width="0.6" stroke-linejoin="round"/>
<path d="M947,494.2 L941.9,496.7 L942.7,501.4 L942.7,501.6 L942.7,501.7 L942.7,501.9 L942.7,502 L942.6,502.2 L942.6,502.3 L942.5,502.5 L942.4,502.6 L942.3,502.7 L942.2,502.9 L942.1,503 L941.9,503 L941.8,503.1 L941.7,503.2 L941.5,503.2 L941.3,503.3 L941.2,503.3 L941,503.3 L940.9,503.3 L940.7,503.2 L940.6,503.2 L940.4,503.1 L941.2,503.5 L943.2,506.5 L943.2,508.1 L942,517 L938.7,523.7 L938.8,524.3 L938.1,525.7 L939.2,533.2 L933.6,538.8 L924.8,541.3 L922.3,546.4 L922.8,549.5 L922.5,550.9 L923.6,554 L923.6,557.3 L920.5,563.5 L921,564.5 L921,569.9 L920.5,572.3 L923,577.4 L925.7,583.1 L924.8,586.7 L921.6,586.7 L921.4,587.2 L922.2,587.7 L923.2,591.3 L925.7,594.8 L927.5,597.8 L926.7,600.8 L924.9,603.9 L923.9,604.7 L923.7,605.8 L923.6,606.1 L923.6,606.1 L926.6,606.6 L928.3,608.3 L931.8,612.7 L932.8,612.8 L932.9,612.9 L940.5,614.2 L942.8,614.9 L948.2,617.7 L955.8,620.2 L949.5,629 L945.7,639.1 L943.2,649.2 L943.2,655.5 L943,657 L941.1,657.7 L941.2,657.6 L941.4,657.6 L941.5,657.6 L941.7,657.6 L941.9,657.6 L942,657.6 L942.2,657.7 L942.3,657.8 L942.5,657.8 L942.6,657.9 L942.7,658 L942.8,658.1 L942.9,658.3 L943,658.4 L943.1,658.6 L943.1,658.7 L943.2,658.9 L943.2,659 L943.2,659.2 L943.2,659.3 L950.5,656.9 L950.6,656.8 L950.8,656.8 L951,656.8 L958.3,656.8 L959.8,653.7 L959.9,653.6 L960,653.4 L960.1,653.3 L960.2,653.2 L960.3,653.1 L960.5,653 L960.6,652.9 L960.8,652.9 L960.9,652.9 L961.1,652.8 L961.2,652.8 L961.4,652.8 L961.5,652.8 L961.7,652.9 L961.9,652.9 L962,653 L962.1,653.1 L962.3,653.2 L962.4,653.3 L963.3,654.2 L970.7,655.5 L970.9,655.5 L971.1,655.6 L978.5,658.8 L978.6,658.8 L978.8,658.9 L978.9,659 L979,659.1 L979.1,659.3 L979.2,659.4 L979.3,659.5 L979.3,659.7 L979.4,659.8 L979.4,660 L979.4,660.2 L979.4,660.3 L979.4,660.5 L979.4,660.5 L979.4,660.6 L980.4,660 L982.2,658.8 L987.9,658.8 L991.7,664.4 L993.2,662.2 L995.5,658.8 L1002.1,657.8 L1005.9,660.6 L1013.4,657.8 L1021,655 L1028.5,654 L1034.2,653.1 L1035.9,654.2 L1039.9,656.9 L1040.3,656.2 L1041.5,654.5 L1041.8,654 L1041.5,653.4 L1038.9,648.4 L1036.1,642.7 L1040.8,638.9 L1045.3,635.9 L1045.3,635.9 L1046.5,635.1 L1049.3,629.5 L1054,626.4 L1047.8,619 L1041.5,613.9 L1036.4,606.4 L1030.1,600.1 L1031.4,595 L1027.6,588.7 L1023.8,584.9 L1028.9,584.9 L1033.9,581.1 L1039,577.4 L1046.5,573.6 L1054.1,569.8 L1059.1,566 L1061.6,563.5 L1064.2,567.3 L1067.9,566 L1070.5,558.5 L1069.2,550.9 L1065.4,543.3 L1061.6,538.3 L1062.9,528.2 L1060.4,518.1 L1054.1,513.1 L1055.3,505.5 L1056.6,498 L1055.3,487.9 L1055.9,487.6 L1055.8,487.7 L1055.6,487.7 L1055.4,487.8 L1055.3,487.8 L1055.1,487.8 L1055,487.8 L1054.8,487.7 L1054.7,487.7 L1051.8,486.7 L1051.7,486.6 L1051.5,486.5 L1051.4,486.5 L1046.5,482.8 L1042.5,480.8 L1042.4,480.7 L1042.3,480.7 L1042.2,480.6 L1042.1,480.4 L1042,480.3 L1041.9,480.2 L1041.8,480.1 L1041.8,479.9 L1041.7,479.8 L1041.7,479.6 L1041.7,479.5 L1041.7,479.3 L1041.7,479.1 L1042.7,472.8 L1039,469 L1036.6,472.5 L1036.5,472.6 L1036.4,472.7 L1036.3,472.8 L1036.2,472.9 L1036,473 L1031.6,475.2 L1031.4,475.3 L1031.2,475.3 L1021.3,477.8 L1011.2,482.8 L1006.8,486.1 L1006.7,486.2 L1006.5,486.3 L1006.4,486.4 L1006.2,486.4 L1006.1,486.4 L1005.9,486.5 L1005.8,486.5 L1005.6,486.5 L1005.5,486.4 L1002.1,485.6 L1002,485.6 L1001.8,485.5 L1001.7,485.5 L1001.6,485.4 L1001.5,485.3 L1001.3,485.2 L1001.2,485.1 L1001.1,484.9 L1001.1,484.8 L1001,484.6 L1001,484.5 L1000.9,484.3 L999.9,477.8 L992.8,476.6 L992.6,476.5 L992.5,476.5 L992.3,476.4 L992.2,476.3 L992.1,476.3 L991.9,476.1 L987.7,471.9 L987.5,471.7 L987.5,471.6 L987.4,471.5 L987.3,471.3 L987.3,471.2 L987.2,471 L986.3,465.6 L986.3,465.5 L986.3,465.3 L986.3,465.2 L986.3,465 L986.4,464.9 L986.4,464.7 L986.5,464.6 L986.6,464.4 L986.6,464.4 L986.1,464.5 L986,463.9 L975.9,465.2 L975.4,465.1 L967.7,463.2 L967.2,462.3 L967.3,462.4 L967.3,462.6 L967.4,462.7 L967.4,462.9 L967.4,463 L967.4,463.2 L967.3,463.4 L967.3,463.5 L967.2,463.7 L967.2,463.8 L967.1,463.8 L967.1,463.9 L967.1,463.9 L967.1,472.8 L969.6,480.2 L969.6,480.3 L969.6,480.5 L970.7,488.9 L970.7,489.1 L970.7,489.2 L970.7,489.4 L970.7,489.6 L970.6,489.7 L970.6,489.9 L970.5,490 L970.4,490.1 L970.3,490.2 L970.2,490.4 L970,490.5 L969.9,490.5 L969.8,490.6 L969.6,490.7 L969.4,490.7 L964.6,491.7 L962.2,496.4 L962.2,496.5 L962.1,496.6 L962,496.7 L961.9,496.8 L961.7,496.9 L961.6,497 L961.5,497.1 L961.3,497.2 L961.2,497.2 L961,497.2 L960.9,497.2 L960.7,497.2 L960.6,497.2 L960.4,497.2 L960.3,497.2 L960.1,497.1 L960,497 L959.9,496.9 L959.8,496.8 L959.6,496.7 L959.5,496.6 L959.5,496.5 L959.4,496.4 L958.3,494.2Z" fill="#a0d28c" stroke="#86b878" stroke-width="0.6" stroke-linejoin="round"/>
<path d="M1055.9,487.6 L1055.8,487.7 L1055.6,487.7 L1055.4,487.8 L1055.3,487.8 L1055.1,487.8 L1055,487.8 L1054.8,487.7 L1054.7,487.7 L1055.3,487.9 L1056.6,498 L1055.3,505.5 L1054.1,513.1 L1060.4,518.1 L1062.9,528.2 L1061.6,538.3 L1065.4,543.3 L1069.2,550.9 L1070.5,558.5 L1067.9,566 L1071.7,563.5 L1074.2,564.8 L1079.3,568.5 L1086.8,571.1 L1093.1,573.6 L1095.7,579.9 L1099.4,583.7 L1103.2,582.4 L1104.5,577.4 L1110.8,578.6 L1117.1,579.9 L1119.6,583.7 L1127.2,586.2 L1133.5,590 L1138.5,596.3 L1144.8,597.5 L1149.9,593.7 L1154.9,596.3 L1156.2,600.1 L1159.9,601.3 L1162.5,597.5 L1170,596.3 L1180.1,593.7 L1190.2,593.7 L1204,597.5 L1206.6,598.3 L1206.3,598.9 L1206.4,598.8 L1206.5,598.6 L1206.6,598.5 L1206.7,598.4 L1206.8,598.3 L1207,598.2 L1207.1,598.1 L1207.3,598.1 L1209.1,597.5 L1205.6,591.7 L1205.6,591.6 L1205.5,591.5 L1205.4,591.3 L1205.4,591.2 L1205.4,591 L1205.4,590.9 L1205.4,590.7 L1205.4,590.6 L1206.5,585.1 L1206.6,585 L1206.7,584.8 L1206.7,584.7 L1211.6,576.1 L1216.6,566.1 L1216.7,565.9 L1221.7,558.5 L1222.9,549.6 L1219.2,543.3 L1213.1,536 L1213,535.9 L1212.9,535.8 L1212.9,535.7 L1212.8,535.5 L1210.3,528.3 L1210.3,528.2 L1210.3,528.1 L1209.1,520.7 L1202.2,513.8 L1202.1,513.7 L1202,513.6 L1202,513.5 L1201.9,513.3 L1201.8,513.2 L1201.8,513 L1201.8,512.9 L1201.8,512.7 L1201.8,512.6 L1201.8,512.4 L1201.8,512.3 L1201.9,512.1 L1204,506.9 L1204,506.8 L1204.1,506.7 L1209.1,498 L1207.8,490.4 L1204,481.6 L1204,481.6 L1200.3,472.8 L1198.8,469.8 L1198.7,469.6 L1198.7,469.5 L1198.6,469.3 L1198.6,469.2 L1198.6,469 L1198.6,468.9 L1198.6,468.7 L1198.7,468.5 L1198.7,468.4 L1198.8,468.3 L1198.9,468.1 L1199,468 L1199.1,467.9 L1199.2,467.8 L1199.4,467.7 L1199.5,467.6 L1199.7,467.6 L1199.8,467.5 L1200,467.5 L1197.7,467.8 L1197.7,467.7 L1196.5,465.2 L1190.2,461.4 L1186.4,460.1 L1184.3,459.1 L1184.2,458.5 L1184.2,458.6 L1184.2,458.8 L1184.2,459 L1184.2,459.1 L1184.1,459.3 L1184.1,459.4 L1184,459.6 L1184,459.7 L1183.9,459.8 L1183.8,460 L1183.7,460.1 L1183.5,460.2 L1183.4,460.2 L1183.3,460.3 L1183.1,460.4 L1180.2,461.4 L1180.1,461.4 L1180,461.4 L1167.6,463.2 L1167.4,463.2 L1152.4,463.9 L1139.8,464.7 L1136,465.2 L1131.6,468.6 L1131.4,468.7 L1131.3,468.7 L1131.1,468.8 L1131,468.9 L1130.8,468.9 L1130.6,468.9 L1130.5,468.9 L1130.3,468.9 L1123.7,467.8 L1123.6,467.7 L1123.4,467.7 L1123.3,467.6 L1123.1,467.5 L1120,465.5 L1119.9,465.4 L1119.8,465.3 L1119.7,465.2 L1119.6,465 L1119.5,464.9 L1119.4,464.7 L1117.1,458.9 L1113.3,458.9 L1099.4,465.2 L1086.8,472.8 L1086.8,472.8 L1074.3,480.2 L1074.2,480.3 L1074.1,480.4 L1061.6,484.9Z" fill="#fff200" stroke="#c9c000" stroke-width="0.6" stroke-linejoin="round"/>
<path d="M1064.2,567.3 L1061.6,563.5 L1059.1,566 L1054.1,569.8 L1046.5,573.6 L1039,577.4 L1033.9,581.1 L1028.9,584.9 L1023.8,584.9 L1027.6,588.7 L1031.4,595 L1030.1,600.1 L1036.4,606.4 L1041.5,613.9 L1047.8,619 L1054,626.4 L1054.1,626.4 L1059.1,627.8 L1065.4,626.5 L1073,625.3 L1075.5,617.7 L1081.8,617.7 L1091.9,620.2 L1102,621 L1110.8,621.5 L1114.6,617.7 L1122.1,613.9 L1127.2,608.9 L1131,602.6 L1136,598.8 L1138.5,596.3 L1133.5,590 L1127.2,586.2 L1119.6,583.7 L1117.1,579.9 L1110.8,578.6 L1104.5,577.4 L1103.2,582.4 L1099.4,583.7 L1095.7,579.9 L1093.1,573.6 L1086.8,571.1 L1079.3,568.5 L1074.2,564.8 L1071.7,563.5 L1067.9,566ZM1051.8,627.9 L1051.3,628.2 L1051.3,628.2Z" fill="#fff200" stroke="#c9c000" stroke-width="0.6" stroke-linejoin="round"/>
<path d="M1190.2,593.7 L1180.1,593.7 L1170,596.3 L1162.5,597.5 L1159.9,601.3 L1156.2,600.1 L1154.9,596.3 L1149.9,593.7 L1144.8,597.5 L1138.5,596.3 L1136,598.8 L1131,602.6 L1127.2,608.9 L1122.1,613.9 L1114.6,617.7 L1110.8,621.5 L1109.5,625.3 L1109.5,631.6 L1113.3,639.1 L1113.5,640.5 L1118.1,643.4 L1124.4,644.5 L1124.7,644.7 L1125.4,644.6 L1133.3,644.9 L1142.1,642.8 L1142.8,640.7 L1143.6,640.4 L1144.8,635.3 L1149.9,634.1 L1157.4,631.6 L1166.2,627.8 L1172.5,620.2 L1180.1,617.7 L1187.7,616.4 L1193.5,618.8 L1193.7,618.9 L1193.7,618.9 L1195.2,619.5 L1199,620.2 L1200.4,616.7 L1201.3,616.4 L1202.2,616.7 L1202.1,616.6 L1202,616.6 L1201.8,616.5 L1201.7,616.4 L1201.6,616.3 L1201.5,616.2 L1201.4,616.1 L1201.3,615.9 L1201.2,615.8 L1201.2,615.6 L1201.2,615.5 L1201.1,615.3 L1201.1,615.2 L1201.1,615 L1201.1,614.9 L1201.2,614.7 L1201.2,614.6 L1201.5,613.9 L1204,604 L1204,603.8 L1204.1,603.7 L1206.3,598.9 L1206.4,598.8 L1206.5,598.6 L1206.6,598.5 L1206.7,598.4 L1206.8,598.3 L1207,598.2 L1207.1,598.1 L1207.3,598.1 L1206.6,598.3 L1204,597.5Z" fill="#fff200" stroke="#c9c000" stroke-width="0.6" stroke-linejoin="round"/>
<path d="M1104.2,651.2 L1105.3,653.5 L1105.3,653.5 L1106,655 L1104.2,662.5 L1101.3,668.2 L1098.5,671.4 L1101.3,673.9 L1104.2,677.7 L1105.1,680.1 L1107.9,683.3 L1108.2,683.5 L1115.5,689 L1123.1,692.8 L1132.5,695.6 L1132.6,695.6 L1142,694.7 L1147.6,692.8 L1152.4,691.8 L1152.8,693 L1152.8,692.9 L1152.7,692.7 L1152.7,692.5 L1152.7,692.4 L1152.7,692.2 L1152.8,692.1 L1152.8,691.9 L1152.9,691.8 L1153,691.6 L1153.1,691.5 L1153.2,691.4 L1153.3,691.3 L1153.4,691.2 L1155.7,689.6 L1155.8,689.5 L1156,689.5 L1156.1,689.4 L1163.5,687 L1171,684.4 L1171.1,684.4 L1171.2,684.4 L1177.8,683.3 L1178,683.3 L1178.1,683.3 L1178.3,683.3 L1178.4,683.3 L1178.5,683.4 L1178.7,683.4 L1178.8,683.5 L1178.9,683.6 L1179.1,683.7 L1179.2,683.8 L1178.6,683.2 L1186.2,678.1 L1191.2,673.1 L1193.7,665.5 L1196.3,656.7 L1200.1,647.9 L1205.1,637.8 L1210.1,631.5 L1215.2,626.5 L1216.3,625.9 L1216.1,625.9 L1216,626 L1215.9,626 L1215.7,626.1 L1215.6,626.1 L1215.4,626.1 L1215.3,626.1 L1215.1,626 L1215,626 L1214.8,626 L1214.7,625.9 L1214.5,625.8 L1214.4,625.7 L1214.3,625.6 L1210.1,621.4 L1205.1,617.6 L1202.2,616.7 L1202.1,616.6 L1202,616.6 L1201.8,616.5 L1201.7,616.4 L1201.6,616.3 L1201.5,616.2 L1201.4,616.1 L1201.3,615.9 L1201.2,615.8 L1201.2,615.6 L1201.2,615.5 L1201.1,615.3 L1201.1,615.2 L1201.1,615 L1201.1,614.9 L1201.2,614.7 L1201.2,614.6 L1200.8,615.6 L1199,620.2 L1195.2,619.5 L1193.7,618.9 L1193.7,618.9 L1187.7,616.4 L1180.1,617.7 L1172.5,620.2 L1166.2,627.8 L1157.4,631.6 L1149.9,634.1 L1144.8,635.3 L1143.6,640.4 L1142.8,640.7 L1134.7,643.7 L1124.7,644.7 L1118.3,641.6 L1113.3,639.1 L1113.6,640.8 L1114.6,646.5 L1107.9,648.4Z" fill="#fff200" stroke="#c9c000" stroke-width="0.6" stroke-linejoin="round"/>
<path d="M1216.3,625.9 L1216.1,625.9 L1216,626 L1215.9,626 L1215.7,626.1 L1215.6,626.1 L1215.4,626.1 L1215.3,626.1 L1215.1,626 L1215,626 L1214.8,626 L1214.7,625.9 L1214.5,625.8 L1214.4,625.7 L1214.3,625.6 L1215.2,626.5 L1210.1,631.5 L1205.1,637.8 L1200.1,647.9 L1196.3,656.7 L1193.7,665.5 L1191.2,673.1 L1186.2,678.1 L1178.6,683.2 L1177.8,683.3 L1178,683.3 L1178.1,683.3 L1178.3,683.3 L1178.4,683.3 L1178.5,683.4 L1178.7,683.4 L1178.8,683.5 L1178.9,683.6 L1179.1,683.7 L1179.2,683.8 L1183.6,688.1 L1183.8,688.3 L1188.7,694.5 L1195,700.8 L1200.9,705.5 L1201,705.6 L1201.1,705.8 L1201.2,705.9 L1201.3,706 L1201.3,706.2 L1201.4,706.3 L1201.4,706.5 L1202.6,712.2 L1208.8,714.7 L1209,714.7 L1216.4,718.5 L1221,716.2 L1221.1,716.1 L1221.3,716.1 L1221.4,716 L1221.6,716 L1221.8,716 L1221.9,716 L1222.1,716.1 L1224.9,716.8 L1225,716.8 L1225.2,716.9 L1225.3,717 L1225.4,717 L1225.5,717.1 L1225.6,717.2 L1225.7,717.4 L1225.8,717.5 L1225.9,717.6 L1226,717.8 L1226,717.9 L1226,718.1 L1226.1,718.2 L1226.1,718.4 L1226.1,718.5 L1226,718.7 L1226,718.8 L1225.3,721 L1227.5,725.4 L1227.6,725.6 L1227.6,725.7 L1227.7,725.9 L1227.7,726 L1227.7,726.2 L1227.7,726.3 L1227.6,726.5 L1227.6,726.6 L1227.8,726 L1232.8,729.8 L1234.1,734.8 L1239.1,733.6 L1249.2,732.3 L1261.8,732.3 L1271.9,731.1 L1284.5,728.5 L1289.5,724.8 L1294.6,719.7 L1302.1,714.7 L1312.2,710.9 L1319.8,710.9 L1327.3,714.7 L1341.2,714.7 L1339.9,708.6 L1339.9,708.4 L1339.9,708.2 L1339.9,701.1 L1339.9,700.9 L1339.9,700.7 L1340,700.5 L1342.4,693.6 L1342.5,693.4 L1342.5,693.3 L1342.6,693.2 L1342.7,693.1 L1348.8,685.7 L1352.5,679.4 L1351.3,670.6 L1347.5,667.5 L1341.2,670.6 L1334.1,674.2 L1334,674.2 L1333.8,674.3 L1333.7,674.3 L1333.5,674.3 L1333.4,674.3 L1333.2,674.3 L1333.1,674.3 L1327.8,673.2 L1327.6,673.2 L1327.5,673.1 L1327.3,673 L1327.2,673 L1327.1,672.9 L1327,672.7 L1323.9,669.6 L1323.8,669.5 L1323.7,669.3 L1323.6,669.2 L1323.5,669.1 L1323.5,668.9 L1321,660.5 L1318.6,653.1 L1318.5,652.9 L1318.5,652.7 L1317.3,642.8 L1312.2,634 L1304.7,627.7 L1304.7,627.7 L1297.2,620.3 L1297.1,620.2 L1297,620.1 L1292,612.6 L1288.3,608.8 L1283.2,605.5 L1278.2,606.3 L1273.1,610.1 L1266.9,615 L1266.8,615.1 L1266.7,615.2 L1259.3,618.9 L1254.9,624.3 L1254.8,624.4 L1254.7,624.5 L1254.6,624.6 L1254.5,624.7 L1254.3,624.8 L1254.2,624.8 L1254,624.8 L1253.9,624.9 L1253.7,624.9 L1253.6,624.9 L1253.4,624.9 L1253.3,624.8 L1253.1,624.8 L1247.9,622.7 L1241.6,622.2 L1235.7,624.6 L1235.5,624.6 L1235.4,624.6 L1235.2,624.7 L1235.1,624.7 L1234.9,624.7 L1227.9,623.9 L1227.7,623.9 L1221.5,622.7Z" fill="#f7991c" stroke="#d8830f" stroke-width="0.6" stroke-linejoin="round"/>
<path d="M1341.2,714.7 L1327.3,714.7 L1319.8,710.9 L1312.2,710.9 L1302.1,714.7 L1294.6,719.7 L1289.5,724.8 L1284.5,728.5 L1271.9,731.1 L1261.8,732.3 L1249.2,732.3 L1239.1,733.6 L1234.1,734.8 L1232.8,729.8 L1227.8,726 L1227.5,725.4 L1227.6,725.6 L1227.6,725.7 L1227.7,725.9 L1227.7,726 L1227.7,726.2 L1227.7,726.3 L1227.6,726.5 L1227.6,726.6 L1225.3,733.6 L1226.5,739.9 L1231.6,746.2 L1237.1,750.6 L1237.2,750.7 L1237.3,750.8 L1237.4,750.9 L1237.5,751 L1237.6,751.2 L1237.6,751.3 L1237.7,751.4 L1237.7,751.6 L1237.7,751.7 L1237.7,751.9 L1237.7,752.1 L1237.6,752.2 L1236.7,755.9 L1236.7,756 L1236.6,756.2 L1236.5,756.3 L1236.4,756.5 L1236.3,756.6 L1231.6,761.3 L1230.3,766.4 L1231.6,775.2 L1238.9,780 L1239,780.2 L1239.1,780.3 L1239.3,780.4 L1242.7,785 L1242.8,785.2 L1242.9,785.3 L1242.9,785.5 L1243,785.6 L1244.2,791.6 L1244.2,791.6 L1245.3,798.7 L1245.4,798.9 L1245.4,799.1 L1245.3,799.2 L1245.3,799.4 L1245.3,799.5 L1245.2,799.7 L1245.1,799.8 L1245,800 L1244.9,800.1 L1244.8,800.2 L1244.7,800.3 L1244.5,800.4 L1244.4,800.5 L1253.1,796.7 L1258.1,794.8 L1266.8,791.6 L1274.8,789.5 L1282.1,791.7 L1290.9,791.7 L1299.7,789.1 L1304.8,786.6 L1305.2,784.7 L1305.9,784 L1306.8,779.8 L1309.8,777.8 L1309.9,777.8 L1309.7,777.8 L1309.6,777.7 L1309.5,777.6 L1309.3,777.6 L1309.2,777.5 L1309.1,777.3 L1309,777.2 L1308.9,777.1 L1308.8,776.9 L1308.8,776.8 L1308.7,776.6 L1308.7,776.5 L1308.7,776.3 L1308.7,776.2 L1308.7,776 L1308.7,775.9 L1308.8,775.7 L1308.9,775.6 L1308.9,775.4 L1309,775.3 L1310.8,772.9 L1310.9,772.8 L1311,772.7 L1311.1,772.6 L1311.3,772.5 L1317.3,768.9 L1324.3,764.2 L1324.4,764.1 L1324.5,764 L1324.7,764 L1324.8,763.9 L1325,763.9 L1325.1,763.9 L1325.3,763.9 L1325.4,763.9 L1332.4,765.1 L1339.9,762.6 L1333.6,756.3 L1333.6,756.3 L1329.4,752 L1329.3,751.9 L1329.2,751.8 L1329.1,751.7 L1329.1,751.5 L1329,751.4 L1329,751.2 L1329,751.1 L1328.9,750.9 L1329,750.8 L1329,750.6 L1329,750.5 L1329.1,750.3 L1329.1,750.2 L1332.4,743.7 L1333.6,736.2 L1333.6,736 L1336,726.7 L1336.1,726.6 L1336.1,726.4 L1336.2,726.3 L1336.3,726.2 L1336.4,726 L1336.5,725.9 L1336.6,725.8 L1336.7,725.7 L1336.9,725.7 L1341.2,723.5Z" fill="#f7991c" stroke="#d8830f" stroke-width="0.6" stroke-linejoin="round"/>
<path d="M924.8,501.5 L911,503.5 L904.7,508.5 L903.4,513.5 L903.4,513.7 L900.9,521 L900.8,521.2 L897.1,528.6 L897,528.8 L892,536.3 L892,536.3 L888.4,541.2 L888.3,541.3 L888.2,541.4 L882,547.6 L878.5,551.6 L878.4,551.7 L878.2,551.8 L878.1,551.9 L878,552 L877.8,552 L878.2,551.9 L880.7,553.9 L885.7,553.9 L892,553.9 L897.1,551.9 L902.1,551.4 L907.2,552.7 L913.5,557.7 L919.3,561.5 L916,562.7 L914.7,567.8 L917.3,571.1 L920.9,570.3 L921,569.9 L921,569.9 L921.8,566 L920.5,563.5 L923.6,557.3 L924.3,555.9 L922.5,550.9 L922.8,549.5 L924.3,543.3 L933.1,540.8 L939.4,534.5 L939.2,533.2 L938.1,525.7 L941.9,518.1 L942,517 L943.2,508.1 L943.2,506.5 L943.2,504.3 L942.7,501.4 L942.7,501.6 L942.7,501.7 L942.7,501.9 L942.7,502 L942.6,502.2 L942.6,502.3 L942.5,502.5 L942.4,502.6 L942.3,502.7 L942.2,502.9 L942.1,503 L941.9,503 L941.8,503.1 L941.7,503.2 L941.5,503.2 L941.3,503.3 L941.2,503.3 L941,503.3 L940.9,503.3 L940.7,503.2 L940.6,503.2 L940.4,503.1 L936.2,501Z" fill="#00704a" stroke="#00704a" stroke-width="0.6" stroke-linejoin="round"/>
<path d="M863,557.7 L863.1,557.7 L864.3,561.5 L864.9,562.7 L866.2,566.3 L871.2,568.8 L873.6,570.8 L876.9,574.1 L882,579.1 L884.4,580.1 L888.3,582.4 L888.3,587.9 L888.8,588.1 L888.8,589 L892.6,590.2 L895.2,587.6 L897.1,586.7 L898.3,590.5 L902.1,596.8 L908.4,603.1 L910.1,603.1 L916.6,604.9 L918.4,605.2 L918.5,605.1 L918.7,604.8 L918.9,604.6 L919,604.3 L916.1,603.6 L916,603.1 L915.9,602.8 L915.4,600.8 L916.1,597.3 L915.4,595.7 L915.1,594.8 L916.4,591.3 L918.1,588.2 L919.7,586.8 L919.8,586.8 L919.9,586.7 L920.2,586.4 L920.7,586.7 L922.2,587.7 L922.8,589.9 L924.7,589.9 L924.3,588.7 L926,583.7 L925.7,583.1 L923,577.4 L920.5,572.3 L920.9,570.3 L917.3,571.1 L914.7,567.8 L916,562.7 L919.3,561.5 L913.5,557.7 L907.2,552.7 L902.1,551.4 L897.1,551.9 L892,553.9 L885.7,553.9 L880.7,553.9 L878.2,551.9 L878.5,551.6 L878.4,551.7 L878.2,551.8 L878.1,551.9 L878,552 L877.8,552 L863.2,557.7ZM921,569.9 L921.6,567.2 L921.3,567.1 L921,567.1Z" fill="#a0d28c" stroke="#86b878" stroke-width="0.6" stroke-linejoin="round"/>
<path d="M846.7,562.8 L846.7,573.8 L846.7,573.9 L846.7,574.1 L846.6,574.2 L846.6,574.4 L844.5,579.8 L844.4,579.9 L844.3,580.1 L844.2,580.2 L844.1,580.3 L844,580.4 L843.9,580.5 L843.7,580.6 L843.6,580.7 L831.6,585.5 L831.6,585.5 L821.5,589.2 L818.4,595.2 L818.4,595.4 L818.3,595.5 L818.2,595.6 L818.1,595.7 L814.6,598.7 L814.5,598.8 L814.4,598.9 L814.2,599 L814.1,599.1 L814,599.1 L813.8,599.1 L813.6,599.1 L813.5,599.1 L813.3,599.1 L813.2,599.1 L803.9,596.8 L796.3,595.7 L796.1,595.6 L796,595.6 L795.8,595.5 L795.7,595.5 L795.6,595.4 L795.4,595.3 L795.3,595.2 L795.2,595 L795.1,594.9 L795.1,594.8 L795,594.6 L795,594.5 L794.9,594.3 L793.8,586.7 L785,585.5 L786.3,596.7 L786.3,596.9 L786.3,611 L786.3,611.2 L786.3,611.3 L786.2,611.5 L786.2,611.6 L786.1,611.7 L786,611.9 L785.9,612 L785.8,612.1 L785.7,612.2 L785.6,612.3 L785.5,612.4 L785.3,612.5 L785.2,612.5 L785,612.6 L784.9,612.6 L784.7,612.6 L784.6,612.6 L784.4,612.6 L779.2,611.7 L779.2,611.7 L771.6,610.4 L766.3,611.5 L766.2,611.5 L766,611.5 L765.9,611.5 L765.7,611.5 L765.6,611.5 L765.4,611.4 L765.3,611.4 L765.1,611.3 L765,611.2 L764.9,611.1 L764.8,611 L764.7,610.9 L761.6,606.6 L756.5,602.8 L749.5,606.3 L749.4,606.4 L749.2,606.5 L749.1,606.5 L748.9,606.5 L748.8,606.5 L748.6,606.5 L748.4,606.5 L741.4,604.9 L731.3,605.9 L729.3,609.1 L732.2,613.6 L732.3,613.8 L732.4,613.9 L732.4,614.1 L732.5,614.2 L732.5,614.4 L732.5,614.5 L732.5,614.7 L732.5,614.8 L731.3,620.5 L736.4,626.8 L746,629.2 L746.2,629.3 L746.3,629.3 L746.4,629.4 L746.6,629.4 L746.7,629.5 L754,635.6 L762.3,640.4 L762.4,640.5 L762.6,640.6 L762.7,640.7 L762.8,640.8 L762.9,640.9 L762.9,641.1 L763,641.2 L765.3,647 L769.9,653.7 L770,653.9 L770,654 L770.1,654.1 L770.1,654.3 L770.1,654.4 L770.2,654.6 L770.1,654.7 L770.1,654.9 L770.1,655 L770.1,655.2 L770,655.3 L767.9,659.6 L772.9,667.1 L779.2,674.7 L782.5,675.5 L782.7,675.5 L782.8,675.6 L782.9,675.7 L783.1,675.8 L783.2,675.8 L783.3,676 L783.4,676.1 L783.5,676.2 L783.6,676.3 L783.6,676.5 L783.7,676.6 L783.7,676.8 L783.7,676.9 L783.7,677.1 L783.7,677.2 L783.7,677.4 L783.7,677.6 L781.7,683.4 L781.6,683.6 L779.2,688.5 L784.1,694.7 L784.2,694.8 L784.3,695 L785.3,697 L785.4,697.2 L785.4,697.3 L785.4,697.5 L785.5,697.6 L785.5,697.8 L785.5,697.9 L785.4,698.1 L785.4,698.2 L785.3,698.4 L785.3,698.5 L785.2,698.7 L785.1,698.8 L785,698.9 L784.9,699 L784.7,699.1 L784.6,699.2 L784.5,699.2 L784.3,699.3 L784.2,699.3 L784,699.3 L783.8,699.3 L783.7,699.3 L783.5,699.3 L783.4,699.3 L783.2,699.2 L783.1,699.1 L783,699.1 L780.5,697.4 L777.9,706.2 L775.4,716.3 L775.4,716.3 L771.6,728.9 L771.6,728.9 L767.9,739 L767.9,739 L764.2,747.6 L764.1,747.7 L764,747.9 L763.9,748 L761.1,751.2 L761,751.3 L760.9,751.4 L760.7,751.5 L760.6,751.6 L760.5,751.6 L760.3,751.7 L760.1,751.7 L760,751.7 L759.8,751.7 L759.7,751.7 L759.5,751.7 L759.4,751.6 L759.2,751.6 L760.3,752.1 L765.3,755.3 L766.6,760.4 L774.2,762.9 L781.7,767.9 L789.3,771.7 L796.8,773.7 L805.7,774.2 L806.9,771.7 L815.7,775.5 L819.5,779.3 L825.8,780.5 L827.1,783.1 L834.7,785.6 L842.2,788.1 L849.8,785.6 L854.3,788.1 L854.2,787.9 L854.3,787.9 L854.3,787.9 L854.3,787.8 L854.2,787.7 L854.2,787.6 L852.3,779.4 L852.3,779.3 L852.3,779.2 L851.8,772.3 L851.8,772.1 L851.8,771.9 L851.9,771.8 L851.9,771.7 L852,771.5 L852,771.4 L852.1,771.2 L855.8,765.8 L855.9,765.7 L856,765.6 L856.1,765.5 L856.3,765.4 L856.4,765.3 L856.5,765.2 L864.7,761.7 L864.8,761.6 L865,761.6 L865.1,761.6 L872.2,760.5 L872.3,760.4 L872.5,760.4 L872.7,760.5 L872.8,760.5 L881.3,762.9 L888.5,764.2 L888.7,764.2 L888.9,764.3 L889,764.3 L897.7,769.2 L897.7,769.2 L905.2,773.7 L915.3,774.2 L921.6,770.5 L923.9,765.8 L924,765.7 L924.1,765.6 L924.1,765.4 L924.3,765.3 L924.4,765.2 L924.5,765.2 L930.4,761.6 L930.4,761.6 L938.1,757.3 L938.3,757.2 L938.4,757.2 L938.6,757.1 L938.7,757.1 L938.7,757.1 L938.8,757.1 L938.8,757.1 L939.5,755.2 L939.8,754.4 L940.6,752.3 L941.4,751.1 L942.5,749.5 L938.8,747.6 L934.4,745.5 L933.1,744.8 L928.4,741 L928.8,738 L929.3,734.4 L931.2,730.6 L930.6,730 L926.5,725.9 L924.6,721.1 L930.2,718.3 L933.6,714.1 L934,713.6 L933.8,713.1 L932.1,708.8 L928.4,703.2 L931.2,701.3 L932.8,700.9 L934.3,700.6 L934.1,700.6 L933.9,700.7 L933.8,700.7 L933.6,700.6 L933.5,700.6 L933.3,700.5 L933.2,700.5 L933.1,700.4 L932.9,700.3 L932.8,700.2 L932.7,700.1 L932.6,700 L932.5,699.8 L932.4,699.7 L932.4,699.6 L930.4,693.6 L925.4,688.5 L919.2,689.8 L919.1,689.8 L918.9,689.8 L918.7,689.8 L918.6,689.8 L918.4,689.7 L918.3,689.7 L918.2,689.6 L918,689.6 L917.9,689.5 L917.8,689.4 L917.7,689.3 L917.6,689.1 L917.5,689 L917.4,688.9 L917.4,688.7 L917.3,688.6 L917.3,688.4 L917.3,688.3 L917.3,688.1 L917.3,688 L917.3,687.8 L917.4,687.7 L917.4,687.5 L917.5,687.4 L919.1,684.8 L921.5,678.7 L921.6,678.6 L921.7,678.4 L921.8,678.3 L927.9,670.9 L932.9,663.3 L932.9,663.3 L935.2,660 L935.3,659.9 L935.4,659.8 L935.5,659.7 L935.7,659.6 L935.8,659.5 L936,659.4 L941.1,657.7 L941.2,657.6 L941.4,657.6 L941.5,657.6 L941.7,657.6 L941.9,657.6 L942,657.6 L942.2,657.7 L942.3,657.8 L942.5,657.8 L942.6,657.9 L942.7,658 L942.8,658.1 L942.9,658.3 L943,658.4 L943.1,658.6 L943.1,658.7 L943.2,658.9 L943.2,659 L943.2,659.2 L943.2,655.5 L943.2,649.2 L945.7,639.1 L949.5,629 L955.8,620.2 L948.2,617.7 L942.8,614.9 L940.7,613.9 L932.8,612.8 L931.8,612.7 L928.3,608.3 L926.8,606.4 L927.4,603.5 L927.1,603.4 L925.3,603.1 L924.9,603.9 L923.2,605.2 L919.6,604.4 L916.1,603.6 L916,603.1 L910.1,603.1 L908.4,603.1 L902.1,596.8 L898.3,590.5 L897.1,586.7 L895.2,587.6 L892,589.2 L888.8,588.1 L888.3,587.9 L888.3,582.4 L888.3,581.6 L884.4,580.1 L882,579.1 L876.9,574.1 L873.6,570.8 L871.9,569 L866.8,566.5 L864.9,562.7 L864.3,561.5 L863.1,557.7 L863.2,557.7 L863,557.7 L854.3,560.3ZM915.5,601.3 L915.4,601.2 L915.9,602.8Z" fill="#a0d28c" stroke="#86b878" stroke-width="0.6" stroke-linejoin="round"/>
<path d="M741.4,746.5 L741.4,746.5 L734,745.3 L733.8,745.3 L733.6,745.2 L721.2,740.2 L708.9,740.2 L708.8,740.2 L708.6,740.2 L708.5,740.1 L708.3,740.1 L696.1,735.2 L695.9,735.2 L685.9,730.1 L670.9,727.6 L670.7,727.6 L658.4,723.9 L658.3,723.8 L658.1,723.7 L658,723.7 L650.7,718.8 L645.6,717.5 L638.1,721.3 L633.4,724.8 L633.3,724.9 L633.2,724.9 L633,725 L632.9,725 L632.8,725.1 L632.6,725.1 L632.5,725.1 L620.4,725.1 L616.6,731.4 L619.1,737.7 L619.1,737.7 L620.4,741.4 L620.4,741.6 L621.6,747.3 L621.6,747.5 L621.6,747.6 L621.6,747.8 L621.6,748 L621.6,748.1 L621.5,748.3 L619.1,754.1 L618,759.9 L618,760 L617.9,760.1 L617.9,760.2 L617.9,760.2 L617.9,760.2 L617.9,760.4 L625.5,757.6 L631.8,758.1 L630.5,763.9 L636.8,766.5 L645.6,768.2 L651.9,766.5 L659.5,769 L662,775.3 L667,780.8 L660.7,785.4 L654.4,789.1 L650.7,792.9 L650.7,803 L648.1,811.8 L644.4,814.4 L644.4,820.7 L639.3,824.4 L631.8,825.7 L634.3,834.5 L638.1,843.3 L633,848.4 L629.2,855.9 L631.8,863.5 L635,864.8 L628,869.8 L622.9,876.1 L619.9,881.1 L619.9,889.2 L619.2,889.4 L619.4,889.3 L619.5,889.3 L619.7,889.3 L619.8,889.3 L619.9,889.4 L620.1,889.4 L620.2,889.5 L620.4,889.5 L620.5,889.6 L626.6,893.7 L626.8,893.7 L633,898.8 L638.3,903 L638.4,903.1 L638.5,903.2 L638.6,903.3 L638.7,903.5 L638.8,903.6 L638.8,903.8 L638.9,903.9 L638.9,904.1 L638.9,904.2 L638.9,904.4 L638.9,904.5 L638.9,904.7 L638.8,904.8 L638.8,904.9 L638.1,906.4 L641.6,911.2 L641.7,911.3 L641.8,911.4 L641.8,911.5 L641.9,911.7 L644.4,920.2 L651.9,927 L657,925.3 L660.4,920.7 L660.5,920.5 L660.6,920.4 L660.7,920.3 L660.8,920.2 L661,920.2 L661.1,920.1 L661.3,920.1 L670.8,917.7 L680.6,915.3 L680.8,915.2 L680.9,915.2 L681,915.2 L681.2,915.2 L691,916.4 L691,916.4 L701,917.7 L701.2,917.7 L713.7,921 L722.2,919.6 L722.3,919.5 L722.5,919.5 L722.7,919.5 L722.8,919.6 L728.8,921 L736.3,912.8 L736.4,912.7 L736.5,912.6 L742.6,907.7 L742.7,907.6 L742.9,907.5 L751.1,903.5 L751.3,903.4 L751.4,903.4 L751.6,903.3 L751.8,903.3 L751.9,903.3 L759,903.8 L764,895.2 L764.1,895.1 L764.2,895 L764.2,894.9 L771.6,887.4 L771.6,887.4 L779.2,879.9 L779.2,879.9 L783.7,876.1 L778.2,870.1 L778.1,870 L778,869.8 L777.9,869.7 L777.8,869.6 L777.8,869.4 L775.5,861.3 L775.5,861.2 L775.4,861.1 L775.4,860.9 L775.4,860.8 L775.5,860.6 L776.6,853.8 L776.7,853.7 L776.7,853.5 L776.8,853.3 L776.9,853.2 L777,853.1 L783,845.9 L789.3,838.3 L795.5,830.8 L795.6,830.7 L795.7,830.6 L801.9,825.7 L804.1,821.2 L804.2,821.1 L804.3,821 L804.4,820.8 L804.5,820.7 L804.7,820.6 L804.8,820.5 L804.9,820.5 L813.1,816.9 L813.3,816.9 L822,814.4 L832.1,810.6 L841,806.8 L848.5,803 L852.3,799.2 L854.8,791.7 L854.3,787.9 L854.3,787.9 L854.3,787.9 L854.3,787.8 L854.2,787.7 L854.2,787.6 L854.2,787.9 L854.3,788.1 L849.8,785.6 L842.2,788.1 L834.7,785.6 L827.1,783.1 L825.8,780.5 L819.5,779.3 L815.7,775.5 L806.9,771.7 L805.7,774.2 L796.8,773.7 L789.3,771.7 L781.7,767.9 L774.2,762.9 L766.6,760.4 L765.3,755.3 L760.3,752.1 L761.1,751.2 L761,751.3 L760.9,751.4 L760.7,751.5 L760.6,751.6 L760.5,751.6 L760.3,751.7 L760.1,751.7 L760,751.7 L759.8,751.7 L759.7,751.7 L759.5,751.7 L759.4,751.6 L759.2,751.6 L751.5,747.8Z" fill="#fff200" stroke="#c9c000" stroke-width="0.6" stroke-linejoin="round"/>
<path d="M616.6,772.8 L615.4,786.4 L615.4,786.5 L615.4,786.7 L615.3,786.8 L610.3,800.5 L610.3,800.5 L605.4,812.8 L605.4,812.9 L605.3,813.1 L605.2,813.2 L605.1,813.3 L597.7,820.7 L591.4,827 L586.4,837 L590.1,843.1 L590.1,843.2 L590.2,843.4 L590.3,843.5 L591.4,848.4 L594.9,854.2 L595,854.3 L595,854.5 L595.1,854.6 L595.1,854.8 L595.1,855 L595.1,855.1 L595.1,855.3 L593.9,863.4 L593.9,863.6 L591.4,873.5 L591.4,873.7 L587.1,884.9 L595.1,886.2 L595.2,886.2 L595.3,886.2 L602.6,888.6 L602.8,888.7 L603,888.8 L609.1,892.5 L614,890.7 L614.2,890.7 L619.2,889.4 L619.4,889.3 L619.5,889.3 L619.7,889.3 L619.8,889.3 L619.9,889.4 L620.1,889.4 L620.2,889.5 L620.4,889.5 L620.5,889.6 L619.9,889.2 L619.9,881.1 L622.9,876.1 L628,869.8 L635,864.8 L631.8,863.5 L629.2,855.9 L633,848.4 L638.1,843.3 L634.3,834.5 L631.8,825.7 L639.3,824.4 L644.4,820.7 L644.4,814.4 L648.1,811.8 L650.7,803 L650.7,792.9 L654.4,789.1 L660.7,785.4 L667,780.8 L662,775.3 L659.5,769 L651.9,766.5 L645.6,768.2 L636.8,766.5 L630.5,763.9 L631.8,758.1 L625.5,757.6 L617.9,760.4 L617.9,760.2 L618,759.9 L618,760 L617.9,760.1 L617.9,760.2 L617.9,760.2 L617.9,760.2Z" fill="#a0d28c" stroke="#86b878" stroke-width="0.6" stroke-linejoin="round"/>
<path d="M1134.4,143.5 L1133.9,130.9 L1128.4,120.8 L1125.1,113.3 L1121.3,101.9 L1113.7,95.6 L1101.1,90.6 L1089.8,80 L1090,79.8 L1089.8,79.9 L1089.7,80 L1089.6,80.1 L1086,82.5 L1087.2,94.8 L1087.2,95 L1087.2,95.2 L1087.2,95.3 L1087.2,95.5 L1087.1,95.6 L1087,95.8 L1087,95.9 L1086.9,96 L1086.8,96.1 L1084,98.9 L1083.9,99 L1083.8,99.1 L1083.7,99.1 L1083.5,99.2 L1083.4,99.3 L1083.2,99.3 L1083,99.3 L1082.9,99.3 L1082.7,99.3 L1068.4,97.6 L1067.2,108.4 L1067.2,108.5 L1067.2,108.7 L1067.1,108.8 L1067,108.9 L1067,109.1 L1066.9,109.2 L1066.8,109.3 L1066.7,109.4 L1066.5,109.5 L1066.4,109.6 L1066.3,109.7 L1066.1,109.7 L1066,109.8 L1059.6,111.2 L1054.5,120.8 L1050.7,128.9 L1052.5,132.8 L1052.6,133 L1052.6,133.1 L1052.7,133.3 L1052.7,133.4 L1052.7,133.6 L1052.7,133.7 L1052.6,133.9 L1052.6,134 L1045.7,153.6 L1045.3,161.2 L1045.3,161.3 L1045.2,161.5 L1045.2,161.7 L1045.1,161.8 L1045,161.9 L1044.9,162.1 L1044.8,162.2 L1044.7,162.3 L1044.6,162.4 L1044.5,162.5 L1044.3,162.6 L1044.2,162.6 L1044,162.7 L1036.9,164.2 L1038.1,173.5 L1038.1,173.7 L1038.1,173.9 L1036.9,183.7 L1036.9,183.8 L1036.9,183.9 L1030.1,205.3 L1033.8,208.5 L1034,208.6 L1034.1,208.7 L1034.1,208.9 L1034.2,209 L1034.3,209.1 L1034.3,209.3 L1034.4,209.4 L1034.4,209.6 L1034.4,209.7 L1034.4,217.8 L1034.4,217.9 L1034.4,218.1 L1034.3,218.2 L1034.3,218.4 L1034.2,218.5 L1034.1,218.7 L1034,218.8 L1033.9,218.9 L1033.8,219 L1033.7,219.1 L1033.5,219.2 L1033.4,219.2 L1033.2,219.3 L1033.1,219.3 L1020.5,221.6 L1014.2,231.7 L1011.7,239.3 L1014.1,249.2 L1014.2,249.3 L1014.2,249.5 L1014.2,249.6 L1013.4,262 L1013.4,262 L1013.4,262 L1013.4,262 L1013.6,262 L1013.7,262 L1013.9,262 L1014,262 L1014.2,262 L1014.3,262.1 L1014.5,262.2 L1014.6,262.2 L1014.7,262.3 L1014.8,262.4 L1014.9,262.5 L1015,262.7 L1015.1,262.8 L1015.2,262.9 L1015.2,263.1 L1015.3,263.2 L1015.3,263.4 L1016.7,275.1 L1022.8,287.4 L1022.9,287.5 L1022.9,287.6 L1023,287.8 L1023,287.9 L1023,288.1 L1023,296.9 L1023,297.1 L1023,297.2 L1022.9,297.4 L1022.9,297.5 L1022.8,297.7 L1022.7,297.8 L1022.6,298 L1022.5,298.1 L1022.4,298.2 L1022.2,298.3 L1016.7,301.6 L1019.2,310.4 L1019.2,310.4 L1021.7,320.1 L1021.7,320.3 L1021.7,320.4 L1021.7,320.6 L1021.7,320.7 L1021.7,320.9 L1019.4,329.8 L1019.4,330 L1019.3,330.1 L1019.2,330.2 L1019.1,330.4 L1019.1,330.5 L1018.9,330.6 L1018.8,330.7 L1018.7,330.8 L1018.6,330.8 L1018.4,330.9 L1012.9,333.1 L1010.4,343.2 L1010.4,352.9 L1010.4,353.1 L1010.4,353.2 L1010.3,353.4 L1010.3,353.5 L1010.2,353.7 L1010.1,353.8 L1010,353.9 L1009.9,354 L1009.8,354.1 L1009.7,354.2 L1009.6,354.3 L1009.4,354.4 L1009.3,354.4 L1009.1,354.5 L1009,354.5 L1008.8,354.5 L1004.1,354.5 L1004.1,355.8 L1004.9,368.4 L1007.9,378.5 L1010.4,386 L1014.2,393.6 L1019.2,402.4 L1023,408.6 L1023,408.8 L1026.8,416.2 L1026.8,416.4 L1029.2,422.4 L1029.3,422.6 L1029.3,422.8 L1030.6,431.4 L1030.6,431.4 L1031.8,441.5 L1033.1,449 L1035.4,447.9 L1035.5,447.8 L1035.7,447.8 L1035.8,447.8 L1043.2,446.5 L1043.2,446.5 L1050.7,445.3 L1051.9,436.8 L1052,436.6 L1052,436.5 L1052.1,436.3 L1052.1,436.2 L1052.2,436.1 L1056.6,429.5 L1056.7,429.3 L1056.8,429.2 L1056.9,429.1 L1057.1,429 L1057.2,428.9 L1057.4,428.9 L1057.5,428.8 L1057.7,428.8 L1070.9,426.4 L1075.9,425.1 L1078.5,418.8 L1078.5,418.8 L1078.7,418.4 L1078.8,418.3 L1078.8,418.2 L1078.9,418 L1079.1,417.9 L1079.2,417.8 L1079.3,417.7 L1079.4,417.7 L1079.6,417.6 L1079.7,417.6 L1079.9,417.5 L1080,417.5 L1080.2,417.5 L1080.4,417.5 L1080.5,417.6 L1080.7,417.6 L1080.8,417.7 L1080.9,417.7 L1081.1,417.8 L1081.2,417.9 L1081.3,418 L1081.4,418.1 L1081.5,418.3 L1081.6,418.4 L1081.6,418.5 L1081.7,418.7 L1081.7,418.8 L1081.7,419 L1081.7,419.2 L1081.7,419.3 L1081.7,419.5 L1083.5,411.2 L1087.3,397.4 L1087.3,397.4 L1087.2,397.5 L1087.1,397.7 L1087,397.8 L1086.9,397.9 L1086.8,398 L1086.7,398.1 L1086.5,398.2 L1086.4,398.2 L1086.2,398.3 L1086.1,398.3 L1085.9,398.3 L1085.8,398.3 L1085.6,398.3 L1085.5,398.3 L1085.3,398.2 L1085.2,398.2 L1085,398.1 L1084.9,398 L1084.8,397.9 L1084.7,397.8 L1084.6,397.7 L1084.5,397.5 L1084.4,397.4 L1084.3,397.2 L1084.3,397.1 L1084.3,396.9 L1083.5,391.3 L1083.5,391.1 L1083.5,390.9 L1084.8,378.5 L1084.8,378.5 L1086,368.4 L1083.8,361.7 L1083.8,361.6 L1083.7,361.4 L1083.7,361.3 L1083.7,361.1 L1083.8,360.9 L1083.8,360.8 L1083.8,360.6 L1083.9,360.5 L1084,360.4 L1084.1,360.2 L1084.2,360.1 L1091,353.4 L1091.1,353.3 L1091.2,353.2 L1098.6,348.2 L1106.2,335.6 L1108.7,325.5 L1104.9,318 L1104.9,318 L1101.1,310.4 L1091.2,306.7 L1091.1,306.6 L1091,306.5 L1085.3,303.1 L1085.1,303 L1085,302.9 L1084.9,302.8 L1084.8,302.7 L1084.7,302.6 L1084.7,302.4 L1084.6,302.3 L1081,292.9 L1081,292.7 L1078.6,283 L1078.5,282.8 L1078.5,282.7 L1078.5,282.6 L1078.5,282.4 L1079.7,272.6 L1079.7,272.6 L1080.8,266.3 L1080.8,266.1 L1080.9,266 L1080.9,265.9 L1081,265.7 L1081,265.7 L1081,265.7 L1081,265.7 L1083.5,259.5 L1083.5,259.3 L1087.3,251.9 L1090.9,242.3 L1091,242.1 L1091.1,242 L1091.2,241.8 L1091.3,241.7 L1091.4,241.6 L1091.5,241.5 L1094.8,239.3 L1098.4,232.1 L1098.5,232 L1098.6,231.9 L1098.6,231.7 L1098.8,231.6 L1098.9,231.5 L1099,231.5 L1104.9,227.9 L1107.4,224.2 L1107.4,224.2 L1111.2,219.1 L1120.1,200.2 L1119.3,196.4 L1115.5,192 L1115.4,191.9 L1115.3,191.7 L1115.3,191.6 L1115.2,191.4 L1115.2,191.3 L1115.1,191.1 L1115.1,191 L1115.1,190.8 L1115.2,190.6 L1117.4,179.5 L1117.4,179.3 L1117.5,179.2 L1117.5,179 L1117.6,178.9 L1117.7,178.7 L1117.8,178.6 L1117.9,178.5 L1118.1,178.4 L1121.3,176.3 L1122.5,167 L1122.5,166.8 L1122.6,166.7 L1122.6,166.5 L1122.7,166.4 L1122.8,166.2 L1122.9,166.1 L1123,166 L1123.1,165.9 L1123.3,165.8 L1127.4,163.3 L1127.5,163.3 L1127.7,163.2 L1127.8,163.1 L1136.4,161.1 L1140.4,158.9 L1140.6,158.8 L1140.7,158.8 L1140.9,158.8 L1141,158.7 L1141.2,158.7 L1141.3,158.7 L1141.5,158.7 L1141.6,158.8 L1141,158.6 L1137.7,151.1Z" fill="#00704a" stroke="#00704a" stroke-width="0.6" stroke-linejoin="round"/>
<path d="M1094.8,73.7 L1090,79.8 L1089.8,79.9 L1089.7,80 L1089.6,80.1 L1089.8,80 L1101.1,90.6 L1113.7,95.6 L1121.3,101.9 L1125.1,113.3 L1128.4,120.8 L1133.9,130.9 L1134.4,143.5 L1137.7,151.1 L1141,158.6 L1140.4,158.9 L1140.6,158.8 L1140.7,158.8 L1140.9,158.8 L1141,158.7 L1141.2,158.7 L1141.3,158.7 L1141.5,158.7 L1141.6,158.8 L1147.7,160.6 L1147.8,160.6 L1147.9,160.7 L1153.5,163.4 L1153.6,163.5 L1153.8,163.6 L1153.9,163.7 L1154,163.8 L1154.1,163.9 L1154.2,164 L1154.3,164.2 L1154.3,164.3 L1158.3,176.6 L1158.4,176.8 L1158.4,176.9 L1158.4,177.1 L1158.4,177.2 L1158.4,177.4 L1158.3,177.5 L1158.3,177.7 L1158.2,177.8 L1158.2,177.9 L1158.1,178.1 L1158,178.2 L1152.8,183.8 L1147.8,196.4 L1145.5,204.8 L1145.4,204.9 L1145.3,205 L1145.3,205.2 L1145.2,205.3 L1145.1,205.4 L1145,205.5 L1144.8,205.6 L1136.4,211.6 L1133.9,221.5 L1133.9,221.7 L1131.5,227.6 L1131.5,227.7 L1131.4,227.9 L1131.3,228 L1131.2,228.1 L1125.1,234.2 L1122.6,244.3 L1125.1,254.4 L1128.9,265.7 L1130.3,263.6 L1130.4,263.5 L1130.5,263.4 L1130.6,263.3 L1130.7,263.2 L1130.9,263.1 L1131,263 L1131.1,263 L1131.3,262.9 L1131.5,262.9 L1131.6,262.9 L1131.8,262.9 L1131.9,262.9 L1132.1,263 L1132.2,263 L1132.4,263.1 L1132.5,263.2 L1132.6,263.2 L1132.7,263.4 L1132.8,263.5 L1132.9,263.6 L1133,263.7 L1133.1,263.9 L1133.1,264 L1133.2,264.2 L1133.2,264.3 L1133.9,270.1 L1135.2,280 L1135.2,280.1 L1135.2,280.3 L1135.2,280.4 L1133.9,290.2 L1133.9,290.2 L1132.7,297.8 L1136.4,302.8 L1136.4,302.8 L1136.5,302.8 L1136.6,302.8 L1136.8,302.8 L1136.9,302.9 L1137.1,302.9 L1137.2,303 L1137.4,303.1 L1137.5,303.2 L1137.6,303.3 L1137.7,303.4 L1137.8,303.5 L1137.9,303.7 L1137.9,303.8 L1138,304 L1138,304.1 L1138,304.3 L1138.1,304.5 L1138,304.6 L1138,304.8 L1138,304.9 L1137.9,305.1 L1137.8,305.2 L1137.7,305.4 L1137.7,305.4 L1144,303.4 L1147.8,307.9 L1147.8,307.8 L1147.8,307.8 L1147.8,307.7 L1147.9,307.5 L1147.9,307.4 L1148,307.2 L1148.1,307.1 L1148.2,307 L1148.3,306.9 L1148.4,306.8 L1148.5,306.7 L1148.7,306.6 L1148.8,306.5 L1148.9,306.5 L1149.1,306.5 L1149.3,306.4 L1149.4,306.4 L1149.6,306.4 L1149.7,306.5 L1149.9,306.5 L1150,306.5 L1150.1,306.6 L1150.3,306.7 L1150.4,306.8 L1150.5,306.9 L1154.1,310.4 L1161.6,314.2 L1169.2,310.4 L1169.2,310.4 L1179.3,305.4 L1186.8,300.3 L1186.8,300.3 L1199.4,292.8 L1199.4,292.8 L1209.5,287.7 L1209.5,287.7 L1217.1,283.9 L1224.7,272.6 L1227.1,265.3 L1227.2,265.1 L1227.3,264.9 L1227.4,264.8 L1231,260 L1231,257.1 L1231,256.9 L1231,256.7 L1233.5,246.9 L1233.5,246.7 L1238.5,234.2 L1238.5,234.2 L1243.6,221.6 L1244.8,211.6 L1233.5,201.5 L1222.8,194.4 L1222.7,194.3 L1222.6,194.2 L1222.5,194.1 L1222.4,193.9 L1222.3,193.8 L1222.2,193.7 L1222.2,193.5 L1222.1,193.4 L1222.1,193.2 L1222.1,193 L1222.1,183.8 L1213.3,172.5 L1206,164 L1205.9,163.9 L1205.8,163.7 L1205.7,163.6 L1205.7,163.5 L1205.6,163.3 L1202.6,149 L1202.6,148.9 L1202.6,148.7 L1202.6,148.6 L1202.6,148.4 L1202.6,148.3 L1202.7,148.1 L1202.7,148 L1205,143.5 L1199.4,134.7 L1193.1,127.1 L1186.1,118.9 L1186,118.7 L1185.9,118.6 L1185.8,118.5 L1185.8,118.3 L1185.7,118.2 L1185.7,118 L1185.7,117.9 L1185.7,117.7 L1185.7,117.6 L1188.1,103.2 L1188.1,96.9 L1183.1,90.6 L1176.8,86 L1176.8,86 L1168.4,79.6 L1168.3,79.5 L1168.2,79.4 L1168.1,79.3 L1168,79.1 L1167.9,79 L1167.9,78.8 L1167.8,78.7 L1167.8,78.5 L1166.2,65.5 L1166.2,65.4 L1166.2,65.3 L1166.7,52.8 L1162.9,47.2 L1155.7,46.1 L1155.6,46 L1155.5,46 L1155.3,45.9 L1155.2,45.9 L1155.1,45.8 L1155,45.7 L1149,40.7 L1146.6,42.6 L1146.4,42.8 L1139,47.2 L1135.2,52.8 L1136.4,73.9 L1136.4,74.1 L1136.4,74.3 L1136.3,74.5 L1134.4,81.3 L1134.3,81.4 L1134.3,81.6 L1134.2,81.7 L1134.1,81.9 L1134,82 L1133.9,82.1 L1133.8,82.2 L1133.6,82.3 L1133.5,82.3 L1133.3,82.4 L1133.2,82.4 L1133,82.4 L1132.9,82.5 L1132.7,82.5 L1132.6,82.4 L1132.4,82.4 L1132.3,82.3 L1127.6,80.5 L1121.3,81.8 L1117.9,85.6 L1117.8,85.7 L1117.7,85.8 L1117.5,85.9 L1117.4,85.9 L1117.2,86 L1117.1,86 L1116.9,86.1 L1111.8,86.7 L1111.6,86.7 L1111.4,86.7 L1111.3,86.7 L1111.1,86.7 L1111,86.6 L1110.9,86.6 L1110.7,86.5 L1105.2,83.2 L1105,83.1 L1104.9,83 L1104.8,82.9 L1104.7,82.8 L1098.6,74.9Z" fill="#00704a" stroke="#00704a" stroke-width="0.6" stroke-linejoin="round"/>
<path d="M1186.8,319.2 L1179.3,321.8 L1171.7,333.1 L1173,343.2 L1177.8,346.9 L1177.9,347 L1178,347.1 L1178.1,347.2 L1181.8,352 L1187.5,353 L1187.6,353.1 L1187.8,353.1 L1187.9,353.2 L1188.1,353.3 L1188.2,353.4 L1188.3,353.5 L1188.4,353.6 L1188.5,353.7 L1188.6,353.8 L1188.7,354 L1188.7,354.1 L1188.8,354.3 L1188.8,354.4 L1188.8,354.6 L1188.8,354.7 L1188.1,363.3 L1194.4,359.6 L1202,357 L1210.8,360.8 L1218.3,365.4 L1223.4,363.8 L1233.5,362.1 L1234.2,362.7 L1234.1,362.6 L1234,362.5 L1233.9,362.4 L1233.8,362.2 L1233.8,362.1 L1233.7,361.9 L1233.7,361.8 L1233.7,361.6 L1233.6,361.5 L1233.7,361.3 L1233.7,361.2 L1235.2,353.3 L1232.2,343.2 L1227.8,341 L1227.7,340.9 L1227.5,340.8 L1227.4,340.7 L1227.3,340.6 L1227.2,340.5 L1227.1,340.4 L1227,340.2 L1227,340.1 L1224.9,333.7 L1224.9,333.6 L1224.8,333.4 L1224.8,333.3 L1224.8,333.1 L1224.8,333 L1224.9,332.8 L1224.9,332.7 L1225,332.5 L1228.4,325.5 L1231,316.7 L1230.2,311.7 L1224.8,313.4 L1224.6,313.4 L1212.1,315.5 L1211.9,315.5 L1199.4,316.7Z" fill="#a0d28c" stroke="#86b878" stroke-width="0.6" stroke-linejoin="round"/>
<path d="M1218.3,365.4 L1210.8,360.8 L1202,357 L1194.4,359.6 L1188.1,363.3 L1190.5,368.2 L1190.6,368.3 L1190.6,368.5 L1190.6,368.7 L1191.8,378 L1191.8,378.2 L1191.8,378.3 L1191.8,378.5 L1191.8,378.6 L1191.7,378.8 L1191.7,378.9 L1188.4,385.5 L1188.3,385.6 L1188.2,385.7 L1188.1,385.9 L1188,386 L1187.8,386.1 L1187.7,386.2 L1187.5,386.2 L1182.8,388.1 L1182.6,388.2 L1182.5,388.2 L1182.3,388.2 L1182.2,388.2 L1182,388.2 L1181.9,388.2 L1181.7,388.2 L1181.6,388.1 L1181.4,388 L1181.3,388 L1181.2,387.9 L1181.1,387.8 L1176.8,383.5 L1169.3,377.2 L1169.1,377.1 L1165.4,373.4 L1161.6,374.7 L1156.6,378.5 L1151.6,386 L1149,398.6 L1148.5,408.7 L1151.6,418.7 L1151.6,418.8 L1151.6,418.9 L1151.6,418.8 L1159.1,411.2 L1166.7,408.7 L1176.8,406.2 L1178,407.4 L1186.8,405.7 L1200.7,405.7 L1203.2,401.1 L1208.3,404.9 L1212,405.7 L1224.7,408.7 L1236,413.7 L1235.9,414 L1236,413.9 L1236,413.7 L1236.1,413.6 L1236.2,413.4 L1239.5,409.1 L1239.6,409 L1239.7,408.9 L1239.8,408.8 L1240,408.7 L1240.1,408.6 L1240.3,408.5 L1247.3,406.2 L1252.4,397.4 L1252.9,392.3 L1247.3,383.5 L1242.3,378.9 L1242.2,378.8 L1242.1,378.7 L1242,378.6 L1241.9,378.4 L1241.8,378.3 L1241.8,378.2 L1241.8,378 L1241.7,377.9 L1241,368.4 L1234.2,362.7 L1234.1,362.6 L1234,362.5 L1233.9,362.4 L1233.8,362.2 L1233.8,362.1 L1233.7,361.9 L1233.7,361.8 L1233.7,361.6 L1233.6,361.5 L1233.7,361.3 L1233.7,361.2 L1233.5,362.1 L1223.4,363.8Z" fill="#fff200" stroke="#c9c000" stroke-width="0.6" stroke-linejoin="round"/>
<path d="M1212,405.7 L1208.3,404.9 L1203.2,401.1 L1200.7,405.7 L1186.8,405.7 L1178,407.4 L1176.8,406.2 L1166.7,408.7 L1159.1,411.2 L1151.6,418.8 L1151.6,418.7 L1151.6,418.8 L1151.6,418.9 L1152.8,428.9 L1155.2,433.7 L1155.3,433.9 L1155.3,434.1 L1156.6,439.5 L1161.5,440.2 L1161.6,440.2 L1161.7,440.2 L1169.2,442.7 L1176.3,443.4 L1176.5,443.5 L1176.6,443.5 L1176.8,443.6 L1176.9,443.6 L1177.1,443.7 L1177.2,443.8 L1181.4,447.4 L1181.5,447.5 L1181.6,447.7 L1181.7,447.8 L1181.8,447.9 L1181.8,448 L1181.9,448.2 L1181.9,448.3 L1183.1,454.1 L1184.2,458.5 L1184.2,458.6 L1184.2,458.8 L1184.2,459 L1184.2,459.1 L1184.1,459.3 L1184.1,459.4 L1184,459.6 L1184,459.7 L1183.9,459.8 L1183.8,460 L1183.7,460.1 L1183.5,460.2 L1183.4,460.2 L1183.3,460.3 L1183.1,460.4 L1185.1,459.7 L1186.4,460.1 L1190.2,461.4 L1196.5,465.2 L1197.7,467.7 L1198.8,469.8 L1198.7,469.6 L1198.7,469.5 L1198.6,469.3 L1198.6,469.2 L1198.6,469 L1198.6,468.9 L1198.6,468.7 L1198.7,468.5 L1198.7,468.4 L1198.8,468.3 L1198.9,468.1 L1199,468 L1199.1,467.9 L1199.2,467.8 L1199.4,467.7 L1199.5,467.6 L1199.7,467.6 L1199.8,467.5 L1200,467.5 L1205.7,466.7 L1212,465.4 L1216.9,459.4 L1217,459.2 L1217.1,459.1 L1217.3,459 L1217.4,458.9 L1221.8,456.8 L1221.9,456.7 L1222,456.7 L1222.2,456.6 L1222.3,456.6 L1222.5,456.6 L1227.2,456.6 L1230.2,455.3 L1227.5,451.9 L1227.4,451.8 L1227.3,451.7 L1227.2,451.5 L1227.2,451.3 L1227.1,451.2 L1225.9,444.3 L1225.9,444.1 L1225.9,443.9 L1225.9,443.7 L1227.1,437 L1227.1,436.9 L1227.2,436.7 L1227.2,436.6 L1227.3,436.5 L1227.4,436.3 L1227.5,436.2 L1227.6,436.1 L1227.7,436 L1232.2,432.7 L1234.5,428 L1234.6,427.8 L1234.7,427.7 L1234.8,427.6 L1234.9,427.5 L1235.1,427.4 L1238.5,425.1 L1237.3,421.3 L1235.4,419.4 L1235.3,419.3 L1235.2,419.2 L1235.1,419.1 L1235,418.9 L1235,418.8 L1234.9,418.7 L1234.9,418.5 L1234.9,418.4 L1234.9,418.2 L1234.9,418 L1234.9,417.9 L1235.9,414 L1236,413.9 L1236,413.7 L1236.1,413.6 L1236.2,413.4 L1236,413.7 L1224.7,408.7Z" fill="#fff200" stroke="#c9c000" stroke-width="0.6" stroke-linejoin="round"/>
<path d="M1196.4,853.4 L1200.2,857.2 L1205.2,861 L1211.5,864.8 L1215,866.5 L1215.1,866.6 L1215.2,866.7 L1215.3,866.8 L1215.5,866.9 L1215.6,867 L1215.6,867.2 L1215.7,867.3 L1215.8,867.4 L1215.8,867.6 L1215.8,867.7 L1215.9,867.9 L1215.9,868 L1215.8,868.2 L1215.8,868.3 L1215.8,868.5 L1215.7,868.6 L1215.6,868.8 L1212.8,873.6 L1212.7,873.7 L1212.6,873.8 L1212.8,873.9 L1212.9,874 L1213,874.1 L1213.1,874.2 L1213.2,874.3 L1213.3,874.4 L1216.5,879.9 L1221.6,883.7 L1227.6,883.7 L1227.7,883.7 L1227.9,883.7 L1228,883.8 L1228.2,883.8 L1228.3,883.9 L1228.5,884 L1228.6,884.1 L1228.7,884.2 L1228.8,884.3 L1228.9,884.4 L1229,884.5 L1229,884.7 L1229.1,884.8 L1229.1,885 L1229.2,885.1 L1229.2,885.3 L1229.2,885.5 L1229.1,885.6 L1229.1,885.8 L1229,885.9 L1229,886.1 L1228.9,886.2 L1228.8,886.3 L1228.7,886.4 L1228.6,886.5 L1228.5,886.6 L1229.1,886.2 L1234.5,882.6 L1235.5,882.4 L1236.7,882.2 L1243,883.7 L1243.9,884 L1243.8,884 L1243.7,883.9 L1243.5,883.8 L1243.4,883.7 L1243.3,883.6 L1243.2,883.5 L1243.1,883.3 L1243,883.2 L1243,883.1 L1242.9,882.9 L1242.9,882.8 L1242.9,882.6 L1242.8,882.4 L1242.9,882.3 L1242.9,882.1 L1242.9,882 L1243,881.8 L1243.1,881.7 L1243.1,881.6 L1243.2,881.4 L1243.4,881.3 L1243.5,881.2 L1243.6,881.1 L1243.7,881.1 L1243.9,881 L1244,880.9 L1244.2,880.9 L1250.2,880 L1250.3,880 L1250.5,880 L1250.7,880 L1250.8,880 L1251,880.1 L1256.9,882.4 L1259.6,883.3 L1259.7,883.4 L1259.9,883.5 L1260,883.5 L1260.1,883.6 L1260.2,883.7 L1260.3,883.9 L1260.4,884 L1260.5,884.1 L1260.6,884.3 L1260.6,884.4 L1260.7,884.6 L1260.7,884.7 L1260.7,884.9 L1260.7,885 L1260.6,885.2 L1260.6,885.3 L1260.6,885.5 L1260.5,885.6 L1260.4,885.7 L1260.3,885.9 L1260.2,886 L1260.1,886.1 L1260,886.2 L1261.9,884.9 L1262.2,886.4 L1262.2,886.2 L1262.2,886.1 L1262.2,885.9 L1262.2,885.8 L1262.2,885.6 L1262.3,885.5 L1262.4,885.3 L1262.5,885.2 L1262.6,885.1 L1262.7,884.9 L1262.8,884.8 L1262.9,884.7 L1263.1,884.7 L1263.2,884.6 L1263.4,884.5 L1263.5,884.5 L1263.7,884.5 L1263.8,884.5 L1264,884.5 L1264.2,884.5 L1265.7,884.9 L1269.8,883.9 L1270,883.9 L1270.2,883.9 L1270.3,883.9 L1270.5,883.9 L1270.6,883.9 L1270.8,884 L1270.9,884 L1271.1,884.1 L1271.2,884.2 L1271.3,884.3 L1275.8,888.7 L1280.8,891.2 L1282.1,887.4 L1280.8,881.1 L1280.8,881.1 L1280.8,881.1 L1280.7,880.9 L1280.7,880.8 L1280.6,880.6 L1280.6,880.5 L1280.6,880.3 L1280.6,880.1 L1280.7,880 L1280.7,879.8 L1280.8,879.7 L1280.9,879.5 L1280.9,879.4 L1281,879.3 L1281.2,879.2 L1281.3,879.1 L1281.4,879 L1281.6,878.9 L1281.7,878.9 L1281.9,878.8 L1282,878.8 L1282.2,878.8 L1282.3,878.8 L1282.5,878.8 L1282.7,878.8 L1282.8,878.9 L1282.1,878.6 L1275.8,873.6 L1268.2,869.8 L1261.9,866 L1261.6,865.4 L1261.7,865.6 L1261.7,865.7 L1261.8,865.9 L1261.8,866 L1261.8,866.2 L1261.8,866.4 L1261.7,866.5 L1261.7,866.7 L1261.6,866.8 L1261.6,866.9 L1261.5,867.1 L1261.4,867.2 L1261.3,867.3 L1261.2,867.4 L1261,867.5 L1260.9,867.6 L1260.7,867.6 L1260.6,867.7 L1260.4,867.7 L1260.3,867.7 L1260.1,867.7 L1260,867.7 L1259.8,867.7 L1259.7,867.7 L1259.5,867.6 L1259.4,867.5 L1259.2,867.4 L1255.6,864.8 L1252.2,864.1 L1252.1,864.1 L1251.9,864 L1251.8,863.9 L1251.6,863.9 L1251.5,863.8 L1251.4,863.7 L1251.3,863.5 L1251.2,863.4 L1251.1,863.3 L1251,863.1 L1251,863 L1251,862.8 L1250.9,862.7 L1250.9,862.5 L1250.9,862.4 L1251,862.2 L1251,862.1 L1251.1,861.9 L1251.1,861.8 L1251.2,861.6 L1251.3,861.5 L1251.4,861.4 L1253.1,859.7 L1255.3,855.4 L1255.3,855.2 L1255.4,855.1 L1255.5,855 L1255.6,854.9 L1255.8,854.8 L1255.9,854.7 L1256,854.6 L1256.2,854.6 L1256.3,854.5 L1260.7,853.4 L1258.1,849.6 L1253.1,843.3 L1248.1,837 L1243.5,831.3 L1243.4,831.1 L1243.3,831 L1243.2,830.9 L1243.2,830.7 L1243.1,830.6 L1243.1,830.4 L1243.1,830.3 L1243.1,830.1 L1243.1,830 L1244.2,823.9 L1244.2,823.7 L1244.3,823.6 L1244.3,823.4 L1244.4,823.3 L1244.5,823.1 L1244.6,823 L1244.7,822.9 L1244.9,822.8 L1246.8,821.5 L1247,821.5 L1247.1,821.4 L1247.3,821.3 L1247.4,821.3 L1247.6,821.3 L1247.8,821.3 L1247.9,821.3 L1248.1,821.3 L1248.2,821.4 L1248.4,821.4 L1248.5,821.5 L1248.7,821.6 L1248.8,821.7 L1248.9,821.8 L1249,821.9 L1251.8,825.7 L1255.5,824.4 L1255.7,824.4 L1260,823.4 L1260.1,823.3 L1260.3,823.3 L1260.4,823.3 L1260.6,823.4 L1260.7,823.4 L1260.9,823.4 L1261,823.5 L1261.2,823.6 L1261.3,823.7 L1265.6,826.9 L1265.8,827.1 L1265.7,827 L1270.7,830.7 L1271.8,826.6 L1272,827 L1272,827 L1271.9,826.9 L1271.9,826.7 L1271.9,826.6 L1271.9,826.4 L1271.9,826.3 L1271.9,826.1 L1271.9,826 L1271.9,825.9 L1272,825.8 L1272,825.6 L1272.1,825.5 L1272.2,825.4 L1272.3,825.3 L1272.4,825.2 L1272.5,825.1 L1272.7,825 L1272.8,824.9 L1273,824.8 L1273.1,824.8 L1273.3,824.8 L1273.4,824.7 L1273.6,824.8 L1273.7,824.8 L1273.9,824.8 L1274,824.8 L1274.2,824.9 L1270.7,823.2 L1269.5,822.4 L1268.2,820.7 L1268.1,820.6 L1269,820.5 L1268.9,820.5 L1268.7,820.5 L1268.5,820.5 L1268.4,820.4 L1268.2,820.4 L1268.1,820.3 L1267.9,820.2 L1267.8,820.1 L1267.7,820 L1267.6,819.9 L1265,816.4 L1264.9,816.3 L1264.8,816.1 L1264.8,816 L1264.7,815.8 L1264.7,815.7 L1264.7,815.5 L1264.7,815.3 L1264.7,815.2 L1264.7,815 L1264.8,814.9 L1264.9,814.7 L1265.5,813.5 L1265.6,813.4 L1265.7,813.3 L1265.7,813.1 L1265.9,813 L1266,812.9 L1266.1,812.9 L1272,809.3 L1276.9,805.6 L1277.1,805.5 L1283,801.9 L1283.2,801.9 L1283.3,801.8 L1283.4,801.8 L1283.6,801.8 L1290.7,800.5 L1290.8,800.5 L1291,800.5 L1291.1,800.5 L1301,801.8 L1301,801.8 L1308.5,803 L1312.3,795.5 L1316.1,786.6 L1314.8,779.1 L1309.9,777.8 L1309.7,777.8 L1309.6,777.7 L1309.5,777.6 L1309.3,777.6 L1309.2,777.5 L1309.1,777.3 L1309,777.2 L1308.9,777.1 L1308.8,776.9 L1308.8,776.8 L1308.7,776.6 L1308.7,776.5 L1308.7,776.3 L1308.7,776.2 L1308.7,776 L1308.7,775.9 L1308.8,775.7 L1308.9,775.6 L1308.9,775.4 L1309,775.3 L1307.2,777.7 L1305.9,784 L1302.1,787.8 L1293.3,790.3 L1285.7,790.3 L1276.9,789 L1274.8,789.5 L1266.8,791.6 L1256.8,795.3 L1249.2,797.9 L1245.4,799.1 L1245.3,798.7 L1245.4,798.9 L1245.4,799.1 L1245.3,799.2 L1245.3,799.4 L1245.3,799.5 L1245.2,799.7 L1245.1,799.8 L1245,800 L1244.9,800.1 L1244.8,800.2 L1244.7,800.3 L1244.5,800.4 L1244.4,800.5 L1244.3,800.5 L1242.2,804.4 L1242.1,804.5 L1242,804.6 L1241.9,804.7 L1241.8,804.8 L1241.6,804.9 L1241.5,805 L1241.4,805.1 L1241.2,805.1 L1241.1,805.1 L1232.9,806.8 L1225.4,810.6 L1217.9,815.5 L1217.7,815.6 L1210.2,819.4 L1206.5,828.2 L1204,836.7 L1203.9,836.8 L1203.9,837 L1203.8,837.1 L1203.7,837.2 L1198.9,843.3 L1197.8,848.7 L1197.7,848.9 L1197.7,849 L1197.6,849.2 L1197.5,849.3 L1197.4,849.4 L1197.3,849.6 L1197.2,849.7 L1197,849.8 L1196.9,849.8 L1196.7,849.9 L1193.9,850.9ZM1210.3,873.9 L1210.2,873.8 L1210.1,873.7 L1210,873.5 L1209.9,873.4 L1209.9,873.2 L1209.9,873.1 L1210.3,875.5 L1210.3,875.4 L1210.3,875.2 L1210.3,875.1 L1210.3,874.9 L1210.4,874.8 L1210.4,874.6 L1210.5,874.5 L1210.6,874.4 L1210.7,874.2 L1210.7,874.2 L1210.6,874.2 L1210.5,874.1 L1210.4,874Z" fill="#fff200" stroke="#c9c000" stroke-width="0.6" stroke-linejoin="round"/>
<path d="M727,427.9 L730.7,422.8 L728.2,420.3 L724.5,421.6 L724.3,421.6 L718.1,422.8 L718.1,422.8 L709.3,424.1 L704.3,430.4 L707.6,433.8 L707.7,433.9 L707.8,434 L707.9,434.2 L708,434.3 L708,434.5 L708,434.6 L708.1,434.8 L708.1,434.9 L708.1,435.1 L708,435.2 L708,435.4 L707.9,435.5 L707.9,435.7 L707.8,435.8 L707.7,435.9 L707.6,436.1 L707.5,436.2 L707.3,436.2 L707.2,436.3 L707.1,436.4 L702.2,438.4 L702,438.4 L701.9,438.4 L701.7,438.5 L701.6,438.5 L701.4,438.5 L690.4,437.5 L681.6,439.2 L679.2,447.8 L679.1,448 L679,448.2 L679,448.3 L674,455.6 L677.8,465.7 L685.1,467.5 L685.3,467.6 L685.4,467.6 L685.6,467.7 L685.7,467.8 L685.8,467.9 L685.9,468 L686,468.1 L686.1,468.2 L686.2,468.4 L686.3,468.5 L686.3,468.6 L686.3,468.8 L686.4,468.9 L686.4,469.1 L686.4,469.3 L686.3,469.4 L686.3,469.6 L686.2,469.7 L686.2,469.8 L686.1,470 L686,470.1 L685.9,470.2 L680.3,475.8 L675.5,482.9 L675.4,483.1 L675.3,483.2 L675.2,483.3 L675.1,483.4 L674.9,483.5 L662.7,489.6 L659.7,497.2 L663.9,504.8 L670.2,511.1 L681.6,511.1 L690.4,508.5 L690.4,508.5 L702.9,504.8 L703,504.8 L703.1,504.8 L712.9,503.5 L713,503.5 L713.2,503.5 L713.3,503.5 L723.2,504.8 L727,495.9 L727,495.9 L732,485.9 L733.8,475.8 L735.3,465.7 L735.8,456.1 L731.3,454.6 L731.2,454.6 L731,454.5 L730.9,454.4 L730.8,454.3 L730.7,454.2 L730.6,454.1 L730.5,453.9 L730.4,453.8 L727,446.8 L723.3,448.1 L723.2,448.1 L723.1,448.1 L716.6,449.1 L716.5,449.2 L716.3,449.2 L716.2,449.1 L716,449.1 L715.9,449.1 L715.7,449 L715.6,449 L715.5,448.9 L715.3,448.8 L715.2,448.7 L715.1,448.6 L715,448.4 L711.3,442.9 L711.2,442.7 L711.2,442.6 L711.1,442.5 L711.1,442.3 L711.1,442.1 L711,442 L711.1,441.8 L711.1,441.7 L711.1,441.5 L711.2,441.4 L711.2,441.2 L711.3,441.1 L711.4,441 L711.5,440.9 L713,439.3 L713.1,439.2 L713.2,439.1 L720.7,434.2Z" fill="#a0d28c" stroke="#86b878" stroke-width="0.6" stroke-linejoin="round"/>
<path d="M961.4,417.8 L960.1,430.4 L960.1,443 L963.9,455.6 L967.2,462.3 L967.3,462.4 L967.3,462.6 L967.4,462.7 L967.4,462.9 L967.4,463 L967.4,463.2 L967.3,463.4 L967.3,463.5 L967.2,463.7 L967.2,463.8 L967.1,463.8 L967.1,463.9 L975.4,465.1 L975.9,465.2 L986,463.9 L986.1,464.5 L986.2,465.3 L986.3,465.6 L986.3,465.5 L986.3,465.3 L986.3,465.2 L986.3,465 L986.4,464.9 L986.4,464.7 L986.5,464.6 L986.6,464.4 L986.6,464.4 L986.6,464.4 L986.6,458.1 L983.2,453.6 L983.1,453.5 L983,453.4 L983,453.2 L982.9,453.1 L982.9,452.9 L982.9,452.8 L982.9,452.6 L982.9,452.4 L983.9,445 L983.9,444.8 L984,444.7 L984,444.5 L984.1,444.4 L984.2,444.2 L984.3,444.1 L984.4,444 L984.5,443.9 L989.1,440.5 L991.4,433.5 L991.5,433.3 L991.5,433.2 L991.6,433 L991.7,432.9 L991.8,432.8 L992,432.7 L992.1,432.6 L997.9,429.1 L1000.4,422.8 L996.6,419.1 L996.6,419.1 L993.5,415.9 L993.4,415.8 L993.3,415.6 L993.2,415.5 L993.1,415.3 L993.1,415.2 L993,415 L993,414.8 L993,414.7 L993,414.5 L994.1,407.7 L995.4,397.6 L994.1,390.1 L987.8,392.6 L981.5,397.6 L978.1,402.2 L978,402.3 L977.8,402.5 L977.7,402.6 L977.6,402.6 L977.4,402.7 L977.3,402.8 L977.1,402.8 L965.1,405.2Z" fill="#00704a" stroke="#00704a" stroke-width="0.6" stroke-linejoin="round"/>
<path d="M1113.7,310.4 L1121.3,308.6 L1127.6,312.9 L1127.6,318 L1121.3,316.7 L1115,314.9Z" fill="#00704a" stroke="#00704a" stroke-width="0.6" stroke-linejoin="round"/>
<path d="M1137.7,305.4 L1144,303.4 L1147.8,307.9 L1145.3,311.7 L1139.5,311.7Z" fill="#00704a" stroke="#00704a" stroke-width="0.6" stroke-linejoin="round"/>
<path d="M1103.7,386 L1108.7,378.5 L1117.5,373.4 L1115,383.5 L1111.2,393.6 L1107.4,402.4 L1104.9,396.1Z" fill="#00704a" stroke="#00704a" stroke-width="0.6" stroke-linejoin="round"/>
<path d="M1081,422.6 L1083.5,411.2 L1087.3,397.4 L1089,393.6 L1087.3,408.7 L1084,421.3Z" fill="#00704a" stroke="#00704a" stroke-width="0.6" stroke-linejoin="round"/>
<path d="M1156.6,340.7 L1160.4,337.6 L1165.4,341.9 L1162.9,347 L1159.1,346.5Z" fill="#a0d28c" stroke="#86b878" stroke-width="0.6" stroke-linejoin="round"/>
<path d="M1152.8,354.5 L1161.6,349.5 L1170.5,347 L1171.7,350.7 L1165.4,357 L1159.1,360.8 L1154.1,360.3Z" fill="#a0d28c" stroke="#86b878" stroke-width="0.6" stroke-linejoin="round"/>
<path d="M987.8,447.5 L992.9,445 L997.9,449.3 L999.2,458.1 L995.4,461.9 L990.9,460.2 L988.8,453.6Z" fill="#00704a" stroke="#00704a" stroke-width="0.6" stroke-linejoin="round"/>
<path d="M1004.2,443 L1010.5,436.7 L1018.1,431.7 L1024.4,431.7 L1026.9,440.5 L1025.6,449.3 L1023.1,455.6 L1024.4,460.7 L1018.1,469.5 L1010.5,468.2 L1004.2,464.4 L1008,458.1 L1015.6,455.6 L1010.5,451.8 L1005.5,449.3Z" fill="#00704a" stroke="#00704a" stroke-width="0.6" stroke-linejoin="round"/>
<path d="M1058.3,451.6 L1062.1,451.1 L1065.9,454.1 L1064.6,457.9 L1059.6,456.6Z" fill="#00704a" stroke="#00704a" stroke-width="0.6" stroke-linejoin="round"/>
<path d="M1104.2,898.6 L1101.6,906.2 L1097.9,915 L1096.6,922.6 L1100.4,928.9 L1099.1,936.4 L1096.6,940.2 L1086.5,939 L1076.4,933.9 L1066.4,928.9 L1056.3,923.8 L1047.4,920.1 L1041.1,916.3 L1039.9,908.7 L1044.9,904.9 L1051.2,906.2 L1056.3,903.7 L1066.4,907.4 L1076.4,906.2 L1086.5,903.7 L1096.6,901.1Z" fill="#fff200" stroke="#c9c000" stroke-width="0.6" stroke-linejoin="round"/>
<path d="M971.8,825 L976.9,826.8 L981.9,835.6 L983.2,843.2 L980.7,852 L981.2,860.8 L979.4,870.9 L978.1,878.5 L971.8,879.7 L966.8,883.5 L963,885.5 L958,883.5 L954.2,879.7 L955.5,868.4 L956.7,860.8 L955.5,853.3 L952.9,845.7 L950.4,838.1 L954.2,834.4 L961.8,831.8 L966.8,828.1Z" fill="#fff200" stroke="#c9c000" stroke-width="0.6" stroke-linejoin="round"/>
<path d="M975.6,779.7 L976.9,787.7 L978.1,797.8 L975.6,810.4 L971.8,820 L966.8,816.7 L963,810.4 L960.5,802.8 L960,795.3 L964.3,789 L970.6,785.2 L974.4,781.4Z" fill="#a0d28c" stroke="#86b878" stroke-width="0.6" stroke-linejoin="round"/>
<path d="M1077.7,957.9 L1081.5,958.6 L1086.5,962.9 L1084,964.2 L1079.5,961.1Z" fill="#fff200" stroke="#c9c000" stroke-width="0.6" stroke-linejoin="round"/>
<path d="M1028.5,939.5 L1031.1,940 L1031.6,942 L1029,941.5Z" fill="#fff200" stroke="#c9c000" stroke-width="0.6" stroke-linejoin="round"/>
<path d="M1048.2,963.7 L1050.7,963.2 L1050.7,965.4 L1048.7,965.4Z" fill="#fff200" stroke="#c9c000" stroke-width="0.6" stroke-linejoin="round"/>
<path d="M989.5,783.2 L995.8,781.7 L996.3,784.7 L990.7,785.7Z" fill="#fff200" stroke="#c9c000" stroke-width="0.6" stroke-linejoin="round"/>
<path d="M1259.4,861 L1264.4,859.7 L1270.7,863.5 L1277,867.3 L1282.1,872.3 L1287.1,876.1 L1290.9,878.6 L1288.4,881.1 L1282.1,878.6 L1275.8,873.6 L1268.2,869.8 L1261.9,866Z" fill="#fff200" stroke="#c9c000" stroke-width="0.6" stroke-linejoin="round"/>
<path d="M1221.6,891.2 L1229.1,886.2 L1235.5,881.9 L1243,883.7 L1250.6,886.2 L1258.1,887.4 L1261.9,884.9 L1263.2,891.2 L1268.2,896.3 L1270.7,900.1 L1265.7,901.3 L1261.9,903.8 L1264.4,911.4 L1267,922.7 L1263.2,920.2 L1258.1,913.9 L1254.4,926.5 L1250.6,921.5 L1245.5,916.4 L1240.5,917.7 L1236.7,920.2 L1234.2,913.9 L1232.9,906.4 L1227.9,900.1 L1224.1,895Z" fill="#fff200" stroke="#c9c000" stroke-width="0.6" stroke-linejoin="round"/>
<path d="M1280.8,950.5 L1284.6,945.4 L1290.9,946.7 L1298.5,949.2 L1308.5,947.9 L1318.6,946.7 L1328.7,945.4 L1337.5,946.7 L1341.3,945.4 L1340.1,949.2 L1333.7,953 L1323.7,955.5 L1316.1,958 L1309.8,958 L1306,955.5 L1295.9,954.2 L1287.1,954.7 L1282.1,954.2Z" fill="#fff200" stroke="#c9c000" stroke-width="0.6" stroke-linejoin="round"/>
<path d="M1468.6,916.4 L1473.6,912.7 L1478.7,908.9 L1481.2,903.8 L1488.8,901.3 L1496.3,898.8 L1502.6,893.7 L1507.7,888.7 L1512.7,885.7 L1508.9,893.7 L1505.1,901.3 L1506.4,906.4 L1500.1,908.9 L1495.1,913.9 L1488.8,920.2 L1486.2,924 L1479.9,922.7 L1474.9,924 L1471.1,920.2Z" fill="#fff200" stroke="#c9c000" stroke-width="0.6" stroke-linejoin="round"/>
<path d="M1367.8,913.9 L1369,907.6 L1374.1,905.1 L1376.6,906.4 L1375.3,912.7 L1371.6,919 L1368.5,919Z" fill="#fff200" stroke="#c9c000" stroke-width="0.6" stroke-linejoin="round"/>
<path d="M1313.6,842.1 L1318.6,838.3 L1323.7,837 L1327.4,842.1 L1326.2,847.1 L1321.1,845.9 L1317.4,845.9Z" fill="#fff200" stroke="#c9c000" stroke-width="0.6" stroke-linejoin="round"/>
<path d="M1316.1,861 L1321.1,859 L1323.2,864.8 L1320.6,869.8 L1318.1,867.3Z" fill="#fff200" stroke="#c9c000" stroke-width="0.6" stroke-linejoin="round"/>
<path d="M1335.8,877.4 L1342.6,876.1 L1343.3,878.6 L1337.5,879.9Z" fill="#fff200" stroke="#c9c000" stroke-width="0.6" stroke-linejoin="round"/>
<path d="M1293.4,827 L1299.7,825.7 L1300.5,829.5 L1295.9,830.7Z" fill="#fff200" stroke="#c9c000" stroke-width="0.6" stroke-linejoin="round"/>
<path d="M1279.6,808.6 L1283.3,808.1 L1284.3,811.8 L1280.8,813.1Z" fill="#fff200" stroke="#c9c000" stroke-width="0.6" stroke-linejoin="round"/>
<path d="M1298.5,811.8 L1303,811.3 L1303,813.9 L1299.5,814.6Z" fill="#fff200" stroke="#c9c000" stroke-width="0.6" stroke-linejoin="round"/>
<path d="M1185,850.4 L1188.8,849.6 L1192.6,857.2 L1190.6,858.5Z" fill="#fff200" stroke="#c9c000" stroke-width="0.6" stroke-linejoin="round"/>
<path d="M1205.2,886.2 L1209,883.2 L1212.8,887.4 L1214,891.2 L1209,892 L1205.2,890Z" fill="#fff200" stroke="#c9c000" stroke-width="0.6" stroke-linejoin="round"/>
<path d="M1207.2,873.6 L1209.7,872.3 L1210.7,877.4 L1208.2,878.1Z" fill="#fff200" stroke="#c9c000" stroke-width="0.6" stroke-linejoin="round"/>
<path d="M1211.5,896.8 L1215.3,897.5 L1217.3,901.3 L1214,901.8Z" fill="#fff200" stroke="#c9c000" stroke-width="0.6" stroke-linejoin="round"/>
<path d="M1264.4,929.5 L1267.7,930.3 L1268.7,934.1 L1265.7,934.6Z" fill="#fff200" stroke="#c9c000" stroke-width="0.6" stroke-linejoin="round"/>
<path d="M1356.9,926.5 L1359,926.5 L1359.5,935.3 L1357.4,934.6Z" fill="#fff200" stroke="#c9c000" stroke-width="0.6" stroke-linejoin="round"/>
<path d="M1352.7,936.6 L1355.2,936.1 L1354.9,939.1 L1352.9,939.6Z" fill="#fff200" stroke="#c9c000" stroke-width="0.6" stroke-linejoin="round"/>
<path d="M1348.4,900.1 L1353.9,896.3 L1355.4,898.3 L1350.1,901.8Z" fill="#fff200" stroke="#c9c000" stroke-width="0.6" stroke-linejoin="round"/>
<path d="M830.4,861 L835.9,857.2 L843.5,852.7 L848.5,854.7 L853.6,858.5 L851,863.5 L847.3,866 L843.5,869.3 L838.4,865.5 L833.4,863.5Z" fill="#fff200" stroke="#c9c000" stroke-width="0.6" stroke-linejoin="round"/>
<path d="M860.4,850.9 L866.2,850.1 L869.9,853.4 L870.4,857.2 L865.4,855.4Z" fill="#fff200" stroke="#c9c000" stroke-width="0.6" stroke-linejoin="round"/>
<path d="M804.9,873.6 L809.4,871.1 L813.2,871.6 L812,875.6 L807.4,877.4Z" fill="#fff200" stroke="#c9c000" stroke-width="0.6" stroke-linejoin="round"/>
<path d="M807.4,880.6 L812,880.1 L812.5,883.2Z" fill="#fff200" stroke="#c9c000" stroke-width="0.6" stroke-linejoin="round"/>
<path d="M1069.2,716.4 L1070.7,716.8 L1071.6,725.9 L1071.1,733.4 L1069.6,731.5 L1069.4,723Z" fill="#fff200" stroke="#c9c000" stroke-width="0.6" stroke-linejoin="round"/>
<path d="M1076.9,720.2 L1078.4,720.6 L1078.8,728.1 L1077.3,727.8Z" fill="#fff200" stroke="#c9c000" stroke-width="0.6" stroke-linejoin="round"/>
<path d="M1082.6,736.3 L1084.5,735.7 L1088.3,740.2 L1087.1,741.4 L1083.7,738.7Z" fill="#fff200" stroke="#c9c000" stroke-width="0.6" stroke-linejoin="round"/>
<path d="M1079.6,743.8 L1081.5,743.3 L1083,746.3 L1081.1,746.7Z" fill="#fff200" stroke="#c9c000" stroke-width="0.6" stroke-linejoin="round"/>
<path d="M1084.3,747 L1086.2,746.7 L1090,752.3 L1088.7,753.8 L1085.6,750.4Z" fill="#fff200" stroke="#c9c000" stroke-width="0.6" stroke-linejoin="round"/>
<path d="M1107.6,761.4 L1109.8,760.3 L1111.7,762.2 L1109.5,763.7Z" fill="#fff200" stroke="#c9c000" stroke-width="0.6" stroke-linejoin="round"/>
<path d="M1112.7,767.1 L1117.4,765.9 L1120.2,767.4 L1115.5,769.3Z" fill="#fff200" stroke="#c9c000" stroke-width="0.6" stroke-linejoin="round"/>
<path d="M1117.4,771.2 L1125.9,770.3 L1128.7,772.2 L1120.2,774.1Z" fill="#fff200" stroke="#c9c000" stroke-width="0.6" stroke-linejoin="round"/>
<path d="M1106,770.9 L1108.3,770.3 L1109.1,772.4 L1106.8,772.7Z" fill="#fff200" stroke="#c9c000" stroke-width="0.6" stroke-linejoin="round"/>
<path d="M1110.2,788.2 L1112.5,787.9 L1113.2,790.1 L1111,790.5Z" fill="#fff200" stroke="#c9c000" stroke-width="0.6" stroke-linejoin="round"/>
<path d="M1095.7,795.8 L1097.5,795.4 L1098.1,797.7 L1096.2,798.1Z" fill="#fff200" stroke="#c9c000" stroke-width="0.6" stroke-linejoin="round"/>
<path d="M1255.6,824.4 L1260.7,823.2 L1265.7,827 L1269.5,830.7 L1271.2,831.2 L1272,827 L1268.2,820.7 L1264.4,815.6 L1258.1,818.1Z" fill="#fff200" stroke="#c9c000" stroke-width="0.6" stroke-linejoin="round"/>
<path d="M1267,820.7 L1272,820.2 L1277,823.2 L1278.8,826.2 L1275.8,825.7 L1270.7,823.2Z" fill="#fff200" stroke="#c9c000" stroke-width="0.6" stroke-linejoin="round"/>
<path d="M1256.9,828.7 L1261.2,828.2 L1265.2,832 L1265.7,834.5 L1261.2,833.8 L1257.6,831.2Z" fill="#fff200" stroke="#c9c000" stroke-width="0.6" stroke-linejoin="round"/>
<g fill="#fff200" stroke="#c9c000" stroke-width="0.5"><circle cx="1311.1" cy="901.3" r="2.0"/><circle cx="1316.1" cy="900.8" r="2.3"/><circle cx="1325.7" cy="904.3" r="2.3"/><circle cx="1336.3" cy="909.4" r="2.0"/><circle cx="1296.4" cy="913.9" r="2.3"/><circle cx="1306.0" cy="914.7" r="1.5"/><circle cx="1309.8" cy="912.7" r="1.3"/><circle cx="1313.6" cy="910.6" r="1.3"/><circle cx="1283.3" cy="913.4" r="1.3"/><circle cx="1273.8" cy="913.4" r="1.0"/><circle cx="1318.1" cy="918.4" r="1.3"/><circle cx="1324.9" cy="917.7" r="1.3"/><circle cx="1299.7" cy="906.4" r="1.5"/><circle cx="1294.7" cy="902.6" r="1.3"/><circle cx="1290.9" cy="896.3" r="1.5"/><circle cx="1280.8" cy="896.3" r="1.3"/><circle cx="1288.9" cy="891.2" r="1.8"/><circle cx="1298.5" cy="883.7" r="2.5"/><circle cx="1306.0" cy="888.7" r="2.3"/><circle cx="1309.8" cy="892.5" r="1.5"/><circle cx="1270.7" cy="891.7" r="1.5"/><circle cx="1326.7" cy="884.2" r="2.8"/><circle cx="1341.3" cy="890.0" r="1.3"/><circle cx="1344.3" cy="883.7" r="1.3"/><circle cx="1346.9" cy="896.8" r="1.3"/><circle cx="1352.7" cy="905.6" r="1.3"/><circle cx="1357.7" cy="908.4" r="1.0"/><circle cx="1367.0" cy="901.8" r="1.3"/><circle cx="1275.3" cy="850.9" r="2.0"/><circle cx="1287.9" cy="858.0" r="2.3"/><circle cx="1294.2" cy="839.6" r="1.3"/><circle cx="1269.5" cy="854.7" r="1.3"/><circle cx="1264.4" cy="854.7" r="1.3"/><circle cx="1310.6" cy="861.5" r="1.0"/><circle cx="1272.8" cy="902.6" r="1.3"/><circle cx="1266.2" cy="905.1" r="1.0"/><circle cx="1302.2" cy="893.7" r="1.0"/></g>
<path d="M1219.8,327 L1224.8,324.4 L1228.6,333.3 L1232.4,343.3 L1239.9,348.4 L1241.2,352.2 L1236.1,353.4 L1231.1,349.6 L1227.3,340.8 L1222.3,334.5Z" fill="#dff2fc"/>
<path d="M1119.5,672.3 L1122.5,670.1 L1128.5,667 L1133.8,663.3 L1135.3,664.3 L1130.1,668.5 L1124,671.9 L1120.2,673.8Z" fill="#dff2fc"/>
<path d="M1151.6,72.9 L1154.6,67.4 L1159.6,58.3 L1162.4,55.3 L1161.6,61.6 L1158.6,69.1 L1155.3,75.5Z" fill="#dff2fc"/>
<path d="M1178.8,185.8 L1182.3,184.3 L1186.3,188.4 L1192.4,186.9 L1189.9,190.9 L1185.6,193.4 L1181.8,190.9Z" fill="#dff2fc"/>
<path d="M1210,202.7 L1214.6,204.5 L1222.1,209.5 L1229.2,215.6 L1224.1,213.6 L1217.1,209.5 L1212.6,207Z" fill="#dff2fc"/>
<path d="M1222.1,226.2 L1227.2,225.4 L1230.2,233 L1227.7,239.3 L1224.7,234.2Z" fill="#dff2fc"/>
<path d="M1208.3,239.3 L1214.1,234.7 L1219.6,237.3 L1223.4,243.1 L1219.1,246.8 L1215.1,243.1 L1210.8,243.8Z" fill="#dff2fc"/>
<path d="M1219.6,248.1 L1227.2,245.6 L1231,250.6 L1224.7,256.9 L1220.9,254.4Z" fill="#dff2fc"/>
<path d="M1212,259.4 L1218.3,256.9 L1223.4,260.7 L1219.6,266.5 L1214.1,265Z" fill="#dff2fc"/>
<path d="M1179.8,248.1 L1182.8,247.3 L1183.8,256.9 L1182.8,269.5 L1180.8,262Z" fill="#dff2fc"/>
<path d="M1173.7,223.7 L1176.8,224.7 L1181.3,232.2 L1183.8,236.8 L1180.8,235.2 L1176.8,230.5Z" fill="#dff2fc"/>
<path d="M1193.9,220.9 L1199.9,219.6 L1205,227.2 L1202.5,230.2 L1208.3,234.2 L1205.7,235 L1199.4,228.7 L1195.9,225.2Z" fill="#dff2fc"/>
<path d="M1179.8,260 L1182.8,261.3 L1186.3,272.1 L1184.3,274.1 L1181.8,267.6Z" fill="#dff2fc"/>
<path d="M1205.7,261.3 L1212,260 L1222.1,262.5 L1219.1,267.6 L1213.3,265.5Z" fill="#dff2fc"/>
<path d="M1020.1,367.2 L1025.1,355.9 L1030.2,345.8 L1037.7,343.3 L1042.8,347 L1041.5,354.6 L1037.7,360.9 L1030.2,364.7 L1025.1,369.7Z" fill="#dff2fc"/>
<path d="M1045.3,381.1 L1049.1,368.5 L1052.9,358.4 L1056.6,355.9 L1055.4,365.9 L1051.6,376 L1047.8,384.8Z" fill="#dff2fc"/>
<path d="M1073,337 L1083.1,334.4 L1093.2,337 L1094.5,340.7 L1085.6,342 L1078.1,339.5Z" fill="#dff2fc"/>
<path d="M907.2,516.1 L912.2,509.8 L914.7,514.8 L917.3,519.9 L922.3,521.1 L918.5,528.7 L913.5,531.2 L908.4,527.4Z" fill="#dff2fc"/>
<path d="M920.2,586.4 L922.2,587.7 L923.2,591.3 L925.7,594.8 L927.5,597.8 L926.7,600.8 L924.9,603.9 L923.2,605.2 L919.6,604.4 L916.1,603.6 L915.4,600.8 L916.1,597.3 L915.1,594.8 L916.4,591.3 L918.1,588.2 L920.2,586.4M979.4,660.6 L982.2,658.8 L987.9,658.8 L991.7,664.4 L995.5,658.8 L1002.1,657.8 L1005.9,660.6 L1013.4,657.8 L1021,655 L1028.5,654 L1034.2,653.1 L1039.9,656.9 L1041.8,654 L1038.9,648.4 L1036.1,642.7 L1040.8,638.9 L1046.5,635.1 L1049.3,629.5 L1054.1,626.4 L1059.1,627.8 L1065.4,626.5 L1073,625.3 L1075.5,617.7 L1081.8,617.7 L1091.9,620.2 L1102,621 L1110.8,621.5 L1109.5,625.3 L1109.5,631.6 L1113.3,639.1 L1113.6,640.8 L1114.6,646.5 L1107.9,648.4 L1104.2,651.2 L1106,655 L1104.2,662.5 L1101.3,668.2 L1098.5,671.4 L1094.7,675.8 L1087.1,676.7 L1081.5,678.6 L1075.8,681.4 L1071.1,685.2 L1064.5,684.3 L1058.8,683.9 L1053.5,683.9 L1047.4,682.4 L1039.9,681.4 L1032.3,679.5 L1028.5,674.8 L1025.7,671 L1015.3,673.9 L1008.7,674.8 L1002.1,676.7 L995.5,676.7 L994.5,674.8 L989.8,678.6 L985.1,675.8 L981.3,672.9 L978.4,670.1 L980.3,665.4 L979.4,660.6M1098.4,671.5 L1101.5,674.1 L1104.2,677.7 L1105.1,680.1 L1100.4,683.3 L1095.7,687.1 L1091.9,691.8 L1092.8,697.5 L1088.1,700.3 L1086.2,708.8 L1082.4,709.8 L1077.7,707.9 L1073,706 L1070.1,709.8 L1064.5,708.8 L1058.8,709.8 L1056.3,711.1M1055.5,710 L1056,707.9 L1059.7,707 L1056,703.2 L1054.1,698.4 L1055,693.7 L1051.2,689.9 L1052.1,687.7 L1053,683.8M1105.1,680.1 L1107.7,683.1 L1107.9,683.3 L1115.5,689 L1123.1,692.8 L1132.5,695.6 L1142,694.7 L1147.6,692.8 L1152.4,691.8 L1154.3,697.5 L1156.1,703.2 L1162.8,707.9 L1158,710.7 L1157.1,716.4 L1156.1,718.3 L1153.3,716.4 L1145.7,714.5 L1136.3,713.6 L1126.8,714.5 L1117.4,713.6 L1107.9,714.5 L1100.4,715.5 L1096.6,716.4 L1095.7,720.2 L1097.5,725.9 L1101.3,730.6 L1105.1,735.3 L1106,739.1 L1111.7,745.7 L1117.4,751.4 L1123.1,757.1 L1128.7,762.7 L1134.4,768.4 L1136,772.4M1140,774.3 L1142,775 L1145.4,777.3M1070.1,709.8 L1070.8,715.4 L1070.1,714.5 L1069,715.6 L1070,709.8M995.5,676.7 L995.3,680.7 L995.5,682.4 L990.7,685.2 L988.8,691.8 L987,689 L982.2,687.1 L977.5,686.2 L973.7,689.9 L970.9,695.6 L968.1,702.2 L967.1,698.4 L962.4,692.8 L958.6,688.1 L952.9,691.8 L947.3,698.4 L939.7,699.4 L931.2,701.3 L928.4,703.2 L932.1,708.8 L934,713.6 L930.2,718.3 L924.6,721.1 L926.5,725.9 L931.2,730.6 L929.3,734.4 L928.4,741 L933.1,744.8 L938.8,747.6 L942.5,749.5 L940.6,752.3 L939.5,755.4M968.9,464.2 L975.9,465.2 L984.9,464M1055.5,489.3 L1056.6,498 L1055.3,505.5 L1054.1,513.1 L1060.4,518.1 L1062.9,528.2 L1061.6,538.3 L1065.4,543.3 L1069.2,550.9 L1070.5,558.5 L1067.9,566 L1064.2,567.3 L1061.6,563.5 L1059.1,566 L1054.1,569.8 L1046.5,573.6 L1039,577.4 L1033.9,581.1 L1028.9,584.9 L1023.8,584.9 L1027.6,588.7 L1031.4,595 L1030.1,600.1 L1036.4,606.4 L1041.5,613.9 L1047.8,619 L1051.5,623.3 L1053.6,626.7M979.4,660.6 L976.5,657.9 L970.9,655.5 L963.3,654.2 L960.8,651.7 L958.3,656.8 L950.7,656.8 L943.2,659.3 L943.2,649.2 L945.7,639.1 L949.5,629 L955.8,620.2 L948.2,617.7 L940.7,613.9 L931.8,612.7 L927.3,607.1 L924.9,603.9M922.2,587.7 L925.4,585.4 L926,583.7 L923,577.4 L920.5,572.3 L921.8,566 L920.5,563.5 L924.3,555.9 L922.5,550.9 L924.3,543.3 L933.1,540.8 L939.4,534.5 L938.1,525.7 L941.9,518.1 L943.2,508.1 L943.2,506.2M1141,464.6 L1152.4,463.9 L1167.5,463.2 L1180.1,461.4 L1185.1,459.7 L1190.2,461.4 L1196.5,465.2 L1197.7,467.7 L1200.3,472.8 L1204,481.6 L1207.8,490.4 L1209.1,498 L1204,506.8 L1201.5,513.1 L1209.1,520.7 L1210.3,528.2 L1212.9,535.8 L1219.2,543.3 L1222.9,549.6 L1221.7,558.5 L1216.6,566 L1211.6,576.1 L1206.6,584.9 L1205.3,591.2 L1209.1,597.5 L1206.6,598.3 L1204,597.5 L1190.2,593.7 L1180.1,593.7 L1170,596.3 L1162.5,597.5 L1159.9,601.3 L1156.2,600.1 L1154.9,596.3 L1149.9,593.7 L1144.8,597.5 L1138.5,596.3 L1133.5,590 L1127.2,586.2 L1119.6,583.7 L1117.1,579.9 L1110.8,578.6 L1104.5,577.4 L1103.2,582.4 L1099.4,583.7 L1095.7,579.9 L1093.1,573.6 L1086.8,571.1 L1079.3,568.5 L1074.2,564.8 L1072.8,564.1 L1069,562.8M1110.8,621.5 L1113.6,618.7 L1114.6,617.7 L1122.1,613.9 L1127.2,608.9 L1131,602.6 L1135.6,599.1 L1138.5,596.3M1206,598.1 L1204.9,602 L1204,603.8 L1201.5,613.9 L1199,620.2 L1195.2,619.5 L1187.7,616.4 L1180.1,617.7 L1172.5,620.2 L1166.2,627.8 L1157.4,631.6 L1149.9,634.1 L1144.8,635.3 L1143.6,640.4 L1134.7,643.7 L1124.7,644.7 L1118.3,641.6 L1117.8,641.3 L1113.8,642M1200.7,615.9 L1204.4,617.4 L1205.1,617.6 L1210.1,621.4 L1215.2,626.5 L1210.1,631.5 L1205.1,637.8 L1200.1,647.9 L1196.3,656.7 L1193.7,665.5 L1191.2,673.1 L1186.2,678.1 L1178.6,683.2 L1171.1,684.4 L1163.5,687 L1155.9,689.5 L1155.7,689.6 L1152.4,691.8M1215.2,626.5 L1218.6,624.4 L1221.5,622.7 L1227.8,623.9 L1235.3,624.7 L1241.6,622.2 L1247.9,622.7 L1254.2,625.2 L1259.3,618.9 L1266.8,615.1 L1273.1,610.1 L1278.2,606.3 L1283.2,605.5 L1288.3,608.8 L1292,612.6 L1297.1,620.2 L1304.7,627.7 L1312.2,634 L1317.3,642.8 L1318.5,652.9 L1321,660.5 L1323.6,669.3 L1327.3,673.1 L1333.6,674.4 L1341.2,670.6 L1347.5,667.5 L1350.4,669.8M1339.7,714.7 L1327.3,714.7 L1319.8,710.9 L1312.2,710.9 L1302.1,714.7 L1294.6,719.7 L1289.5,724.8 L1284.5,728.5 L1271.9,731.1 L1261.8,732.3 L1249.2,732.3 L1239.1,733.6 L1234.1,734.8 L1232.8,729.8 L1227.8,726 L1225.3,721 L1226.5,717.2 L1221.5,715.9 L1216.4,718.5 L1208.9,714.7 L1202.6,712.2 L1201.3,705.9 L1195,700.8 L1188.7,694.5 L1183.7,688.2 L1181.5,686.1 L1179.3,682.7M1338.3,763.1 L1332.4,765.1 L1324.8,763.8 L1317.3,768.9 L1311,772.7 L1307.2,777.7 L1305.9,784 L1302.1,787.8 L1293.3,790.3 L1285.7,790.3 L1276.9,789 L1266.8,791.6 L1256.8,795.3 L1249.2,797.9 L1245.4,799.1 L1244.2,791.6 L1242.9,785.3 L1239.1,780.2 L1231.6,775.2 L1230.3,766.4 L1231.6,761.3 L1236.6,756.3 L1237.9,751.2 L1231.6,746.2 L1226.5,739.9 L1225.3,733.6 L1226.5,730 L1228.9,726.8M920.7,571.3 L916.8,570.5 L914.7,567.8 L916,562.7 L916.6,562.5 L920.5,563.5M921.2,562.2 L917.6,560.4 L913.5,557.7 L907.2,552.7 L902.1,551.4 L897.1,551.9 L892,553.9 L885.7,553.9 L880.7,553.9 L879.4,552.8M915.7,602.1 L911.9,603.1 L908.4,603.1 L902.1,596.8 L898.3,590.5 L897.1,586.7 L892,589.2 L888.3,587.9 L888.3,581.6 L882,579.1 L876.9,574.1 L871.9,569 L866.8,566.5 L864.3,561.5 L863.6,559.1M761.6,752.9 L765.3,755.3 L766.6,760.4 L774.2,762.9 L781.7,767.9 L789.3,771.7 L796.8,773.7 L805.7,774.2 L806.9,771.7 L815.7,775.5 L819.5,779.3 L825.8,780.5 L827.1,783.1 L834.7,785.6 L842.2,788.1 L849.8,785.6 L852.5,787.1M932.4,701 L931.6,697.1 L930.4,693.6 L925.4,688.5 L919.1,689.8 L914,693.1 L919.1,684.8 L921.6,678.5 L927.9,670.9 L932.9,663.3 L935.5,659.6 L939.2,658.3 L943.2,658.3M619.5,759.8 L625.5,757.6 L631.8,758.1 L630.5,763.9 L636.8,766.5 L645.6,768.2 L651.9,766.5 L659.5,769 L662,775.3 L667,780.8 L660.7,785.4 L654.4,789.1 L650.7,792.9 L650.7,803 L648.1,811.8 L644.4,814.4 L644.4,820.7 L639.3,824.4 L631.8,825.7 L634.3,834.5 L638.1,843.3 L633,848.4 L629.2,855.9 L631.8,863.5 L635,864.8 L628,869.8 L622.9,876.1 L619.9,881.1 L619.9,887.8M1089.8,80 L1101.1,90.6 L1113.7,95.6 L1121.3,101.9 L1125.1,113.3 L1128.4,120.8 L1133.9,130.9 L1134.4,143.5 L1137.7,151.1 L1140.4,157.3M1005.6,354.5 L1010.4,354.5 L1010.4,343.2 L1012.9,333.1 L1019.2,330.6 L1021.8,320.5 L1019.2,310.4 L1016.7,301.6 L1023,297.8 L1023,287.7 L1016.7,275.1 L1014.9,260 L1013.4,262 L1014.2,249.4 L1011.7,239.3 L1014.2,231.7 L1020.5,221.6 L1034.4,219.1 L1034.4,209 L1030.1,205.3 L1036.9,183.8 L1038.1,173.7 L1036.9,164.2 L1045.2,162.4 L1045.7,153.6 L1052.8,133.4 L1050.7,128.9 L1054.5,120.8 L1059.6,111.2 L1067.1,109.5 L1068.4,97.6 L1083.5,99.4 L1087.3,95.6 L1086,82.5 L1089.8,80M1089.8,80 L1092.3,76.9 L1094.8,73.7 L1098.6,74.9 L1104.9,83 L1111.2,86.8 L1117.5,86 L1121.3,81.8 L1127.6,80.5 L1133.9,83 L1136.4,74.2 L1135.2,52.8 L1139,47.2 L1146.5,42.7 L1149,40.7 L1155.3,46 L1162.9,47.2 L1166.7,52.8 L1166.2,65.4 L1167.9,79.2 L1176.8,86 L1183.1,90.6 L1188.1,96.9 L1188.1,103.2 L1185.6,118.3 L1193.1,127.1 L1199.4,134.7 L1205,143.5 L1202.5,148.5 L1205.7,163.7 L1213.3,172.5 L1222.1,183.8 L1222.1,193.9 L1233.5,201.5 L1244.8,211.6 L1244,218.5M1226.9,266 L1224.7,272.6 L1219.5,280.4M1230.3,312.6 L1231,316.7 L1228.4,325.5 L1224.7,333.1 L1227.2,340.7 L1232.2,343.2 L1235.2,353.3 L1233.5,362.1 L1223.4,363.8 L1218.3,365.4 L1210.8,360.8 L1202,357 L1194.4,359.6 L1189.7,362.4M1233.5,362.1 L1236.6,364.7 L1241,368.4 L1241.8,378.5 L1247.3,383.5 L1252.9,392.3 L1252.4,397.4 L1247.3,406.2 L1239.8,408.7 L1236,413.7 L1224.7,408.7 L1212,405.7 L1208.3,404.9 L1203.2,401.1 L1200.7,405.7 L1186.8,405.7 L1178,407.4 L1176.8,406.2 L1166.7,408.7 L1159.1,411.2 L1152.8,417.6M1236,413.7 L1235,417.6 L1234.7,418.8 L1237.3,421.3 L1238.5,425.1 L1234.7,427.6 L1232.2,432.7 L1227.2,436.4 L1225.9,444 L1227.2,451.6 L1230.2,455.3 L1227.2,456.6 L1222.1,456.6 L1217.1,459.1 L1212,465.4 L1205.7,466.7 L1201.9,467.2 L1198.4,469M1184.8,459.8 L1183.6,456 L1183.1,454.1 L1181.8,447.8 L1176.8,443.5 L1169.2,442.7 L1161.6,440.2 L1158,439.7M1198.6,844.6 L1198.9,843.3 L1203.9,837 L1206.5,828.2 L1210.2,819.4 L1217.8,815.6 L1225.4,810.6 L1232.9,806.8 L1241.8,805 L1243.2,802.4 L1245.4,799.1M1308.6,775.9 L1311.8,778.3 L1314.8,779.1 L1316.1,786.6 L1312.3,795.5 L1309.2,801.6M726.9,428 L720.7,434.2 L713.1,439.2 L710.6,441.8 L715.6,449.3 L723.2,448.1 L727,446.8 L730.7,454.4 L734.6,455.7" fill="none" stroke="#000" stroke-width="1.5" stroke-linejoin="round" stroke-linecap="round"/>
<path d="M820.8,779.3 L824.6,778.8 L826.6,781.8 L822,783.1Z" fill="#dcddde" stroke="#000" stroke-width="1"/>
<circle cx="1035.6" cy="805.9" r="1.5" fill="#111"/><circle cx="1034.2" cy="752.3" r="1.4" fill="#111"/>
</g>
<defs><clipPath id="c1"><rect x="1307.7" y="60.9" width="204.3" height="65.7"/></clipPath><clipPath id="c3"><rect x="1413.5" y="133.1" width="98.5" height="125.4"/></clipPath></defs>
<rect x="1307.2" y="60.4" width="205.3" height="66.7" fill="#d2eefc" stroke="#e9f6fd" stroke-width="1"/>
<g clip-path="url(#c1)"><path d="M1513.2,96.5 L1500,101.4 L1484.7,104.9 L1479.2,106.2 L1473.6,113.9 L1470.1,120.8 L1468.3,127.8 L1513.2,127.8Z" fill="#dcddde" stroke="#a9c6d8" stroke-width="0.7" stroke-linejoin="round"/><path d="M1472.2,114.7 L1513.2,113.2" stroke="#8f8f8f" stroke-width="0.8" fill="none"/></g>
<path d="M1357.6,84 L1361.8,83.3 L1363.9,86.8 L1363.2,91 L1361.1,93.3 L1359,90.3 L1357.2,86.4Z" fill="#fff200" stroke="#c9c000" stroke-width="0.5" stroke-linejoin="round"/>
<path d="M1353.2,113.2 L1356.9,111.1 L1360,110.4 L1359,113.2 L1357.2,116.4 L1355.6,114.6Z" fill="#fff200" stroke="#c9c000" stroke-width="0.5" stroke-linejoin="round"/>
<path d="M1383.3,97.9 L1388.9,96.5 L1394.4,92.4 L1400,90.6 L1401.8,91.4 L1399.3,95.8 L1395.8,100.7 L1393.1,104.2 L1388.9,106.2 L1386.1,103.5 L1384.4,100.7Z" fill="#fff200" stroke="#c9c000" stroke-width="0.5" stroke-linejoin="round"/>
<path d="M1442.4,104.2 L1445.8,101.4 L1448.6,95.8 L1451.4,88.9 L1453.5,86.1 L1456.2,86.1 L1456.7,91.7 L1454.9,97.9 L1450.7,100.7 L1447.2,102.1 L1444.4,105.3Z" fill="#fff200" stroke="#c9c000" stroke-width="0.5" stroke-linejoin="round"/>
<path d="M1455.3,81.2 L1457.6,77.1 L1462.5,74.3 L1464.2,71.5 L1465.6,72.9 L1465,77.8 L1461.1,80.6 L1456.9,83.3Z" fill="#fff200" stroke="#c9c000" stroke-width="0.5" stroke-linejoin="round"/>
<circle cx="1375.4" cy="103.1" r="3.1" fill="#fff200" stroke="#c9c000" stroke-width="0.5"/>
<circle cx="1414.2" cy="107.9" r="5.8" fill="#fff200" stroke="#c9c000" stroke-width="0.5"/>
<rect x="1307.2" y="132.6" width="105.0" height="171.3" fill="#d2eefc" stroke="#e9f6fd" stroke-width="1"/>
<path d="M1364.6,218.1 L1366.7,216 L1370.1,215.3 L1371.5,212.5 L1374.3,211.8 L1375.7,215.3 L1378.5,217.4 L1377.8,219.4 L1373.6,220.1 L1371.5,219.4 L1370.1,225 L1366.7,226.7 L1365.3,223.6Z" fill="#a0d28c" stroke="#86b878" stroke-width="0.5" stroke-linejoin="round"/>
<path d="M1376.1,226.1 L1378.5,224.7 L1380.6,226.4 L1378.9,228.9 L1377.1,228.1Z" fill="#a0d28c" stroke="#86b878" stroke-width="0.5" stroke-linejoin="round"/>
<path d="M1379.2,255.6 L1381.9,254.2 L1385.4,256.2 L1388.2,261.1 L1390.3,265.3 L1388.9,267.4 L1386.1,266 L1383.3,263.9 L1381.2,260.4Z" fill="#a0d28c" stroke="#86b878" stroke-width="0.5" stroke-linejoin="round"/>
<path d="M1373.3,235.4 L1377.1,235.8 L1379.2,240.3 L1378.5,245.1 L1376.1,245.8 L1374.3,241.7Z" fill="#dcddde" stroke="#b9bcbe" stroke-width="0.5" stroke-linejoin="round"/>
<path d="M1383.3,279.2 L1386.1,275.7 L1388.6,275.7 L1388.9,280.6 L1386.8,285 L1384,284Z" fill="#dcddde" stroke="#b9bcbe" stroke-width="0.5" stroke-linejoin="round"/>
<path d="M1332.2,166.4 L1334,165.3 L1335.8,166.4 L1334.7,167.8 L1332.8,167.8Z" fill="#dcddde" stroke="#b9bcbe" stroke-width="0.5" stroke-linejoin="round"/>
<path d="M1337.2,174.7 L1339.2,174.2 L1340.6,175.6 L1338.9,176.7Z" fill="#dcddde" stroke="#b9bcbe" stroke-width="0.5" stroke-linejoin="round"/>
<path d="M1327.1,181.7 L1329.4,181.2 L1329.7,183.3 L1328.1,183.1Z" fill="#dcddde" stroke="#b9bcbe" stroke-width="0.5" stroke-linejoin="round"/>
<path d="M1362.5,180.3 L1364.6,179.9 L1366.9,183.3 L1366.1,184.7 L1363.6,183.1Z" fill="#dcddde" stroke="#b9bcbe" stroke-width="0.5" stroke-linejoin="round"/>
<path d="M1337.5,188.2 L1339.6,187.8 L1341.7,190.6 L1340.6,191.7 L1338.2,190Z" fill="#dcddde" stroke="#b9bcbe" stroke-width="0.5" stroke-linejoin="round"/>
<path d="M1343.3,193.8 L1345.6,193.3 L1346.5,195.6 L1344.7,196.7Z" fill="#dcddde" stroke="#b9bcbe" stroke-width="0.5" stroke-linejoin="round"/>
<path d="M1362.2,198.3 L1364.6,194.2 L1367.8,198.3Z" fill="#dcddde" stroke="#b9bcbe" stroke-width="0.5" stroke-linejoin="round"/>
<path d="M1353.1,205.3 L1355,204.4 L1356.2,206.7 L1354.4,207.8Z" fill="#dcddde" stroke="#b9bcbe" stroke-width="0.5" stroke-linejoin="round"/>
<path d="M1316.7,233.1 L1318.3,231.9 L1319.7,234.4 L1318.3,235.8Z" fill="#dcddde" stroke="#b9bcbe" stroke-width="0.5" stroke-linejoin="round"/>
<path d="M1377.8,297.6 L1379.9,294.2 L1382.6,294.9 L1382.9,298.3 L1380.6,300.4Z" fill="#dcddde" stroke="#b9bcbe" stroke-width="0.5" stroke-linejoin="round"/>
<circle cx="1333.1" cy="170.8" r="1" fill="#111"/>
<rect x="1413" y="132.6" width="99.5" height="126.4" fill="#dcddde" stroke="#e9f6fd" stroke-width="1"/>
<g clip-path="url(#c3)"><path d="M1412.5,131.9 L1513.2,131.9 L1513.2,191 L1505.6,185.4 L1501.4,189.6 L1497.9,181.9 L1494.4,175.7 L1480.6,166.7 L1466.7,156.9 L1452.8,152.8 L1440.3,150 L1437.5,145.8 L1425,143.8 L1412.5,141.7Z" fill="#d2eefc" stroke="#a9c6d8" stroke-width="0.7" stroke-linejoin="round"/></g>
<path d="M1438.9,151.4 L1440.3,150 L1452.8,152.8 L1466.7,156.9 L1480.6,166.7 L1494.4,175.7 L1497.9,181.9 L1501.4,189.6 L1500.7,193.1 L1494.4,201.4 L1487.5,211.1 L1481.9,219.4 L1479.2,227.8 L1476.4,234.7 L1472.2,238.9 L1467.4,242.4 L1461.1,241.7 L1456.9,238.9 L1451.4,240.3 L1445.8,237.8 L1440.3,241 L1435.4,243.8 L1430.6,242.8 L1425.7,240.3 L1422.9,238.2 L1427.8,234.7 L1431.9,227.8 L1433.3,220.8 L1434,215.3 L1437.5,209.7 L1438.6,205.6 L1435.4,200 L1431.9,194.4 L1429.2,187.5 L1427.1,179.2 L1426.4,172.2 L1427.8,165.3 L1431.9,159.7 L1436.8,154.2Z" fill="#a0d28c" stroke="#86b878" stroke-width="0.6" stroke-linejoin="round"/>
<path d="M1500.7,193.1 L1494.4,201.4 L1487.5,211.1 L1481.9,219.4 L1479.2,227.8 L1476.4,234.7 L1472.2,238.9 L1467.4,242.4 L1461.1,241.7 L1456.9,238.9 L1451.4,240.3 L1445.8,237.8 L1440.3,241 L1435.4,243.8 L1430.6,242.8 L1425.7,240.3 L1422.9,238.2 L1427.8,234.7 L1431.9,227.8 L1433.3,220.8 L1434,215.3 L1437.5,209.7 L1438.6,205.6 L1435.4,200 L1431.9,194.4 L1429.2,187.5 L1427.1,179.2 L1426.4,172.2 L1427.8,165.3 L1431.9,159.7 L1436.8,154.2 L1438.9,151.4" fill="none" stroke="#000" stroke-width="1.5" stroke-linejoin="round"/>
<path d="M1413.1,232.6 L1418.1,234.7 L1420.8,237.5 L1422.9,238.2" fill="none" stroke="#999" stroke-width="0.8"/>
<rect x="1413" y="132.6" width="99.5" height="126.4" fill="none" stroke="#e9f6fd" stroke-width="1"/>
<rect x="1413" y="259.7" width="48.8" height="44.2" fill="#d2eefc" stroke="#e9f6fd" stroke-width="1"/>
<rect x="1462.8" y="259.7" width="49.7" height="44.2" fill="#d2eefc" stroke="#e9f6fd" stroke-width="1"/>
<path d="M1434.4,278.9 L1436.8,277.8 L1439.6,279.6 L1440,283.1 L1438.2,286.9 L1436.8,285.8 L1436.8,282.4Z" fill="#a0d28c" stroke="#86b878" stroke-width="0.5" stroke-linejoin="round"/>
<path d="M1479.2,278.9 L1483.3,275.4 L1489.6,275.4 L1493.8,278.9 L1495.1,284.4 L1493.8,288.3 L1488.2,288.6 L1483.3,286.5 L1480.6,283.1Z" fill="#a0d28c" stroke="#86b878" stroke-width="0.5" stroke-linejoin="round"/>
<rect x="1307.2" y="309.2" width="148.9" height="89.4" fill="#d2eefc" stroke="#e9f6fd" stroke-width="1"/>
<rect x="1457" y="309.2" width="55.5" height="89.4" fill="#d2eefc" stroke="#e9f6fd" stroke-width="1"/>
<path d="M1320.8,316.7 L1322.2,315.3 L1323.9,316.7 L1323.3,318.6 L1321.5,318.9Z" fill="#a0d28c" stroke="#86b878" stroke-width="0.5" stroke-linejoin="round"/>
<path d="M1318.1,323.1 L1320.1,321.7 L1321.9,323.3 L1321.1,325.8 L1318.8,325.6Z" fill="#a0d28c" stroke="#86b878" stroke-width="0.5" stroke-linejoin="round"/>
<path d="M1383.1,335.1 L1386.1,334.2 L1386.8,337.5Z" fill="#a0d28c" stroke="#86b878" stroke-width="0.5" stroke-linejoin="round"/>
<path d="M1380.3,344.9 L1382.6,344.2 L1390.3,348.3 L1389.6,349.7 L1383.3,347.2Z" fill="#a0d28c" stroke="#86b878" stroke-width="0.5" stroke-linejoin="round"/>
<path d="M1368.1,347.9 L1370.8,346.5 L1373.6,348.3 L1371.5,349.7Z" fill="#a0d28c" stroke="#86b878" stroke-width="0.5" stroke-linejoin="round"/>
<path d="M1374.3,349 L1377.1,348.3 L1381.9,351.1 L1384.7,352.2 L1384,353.6 L1379.2,353.2 L1375.7,351.8Z" fill="#a0d28c" stroke="#86b878" stroke-width="0.5" stroke-linejoin="round"/>
<path d="M1430.1,367.1 L1431.9,366.4 L1435.4,368.5 L1440.3,367.8 L1445.1,367.5 L1445.8,369.4 L1441.7,371.2 L1437.5,371.7 L1433.3,370.3 L1431.2,368.9Z" fill="#a0d28c" stroke="#86b878" stroke-width="0.5" stroke-linejoin="round"/>
<path d="M1444.2,390.7 L1447.2,389.3 L1448.6,392.1 L1445.8,391.7Z" fill="#a0d28c" stroke="#86b878" stroke-width="0.5" stroke-linejoin="round"/>
<path d="M1478.2,358.3 L1480.6,357.1 L1485.4,358.3 L1489.6,360.1 L1490,362.2 L1486.8,363.9 L1482.6,362.9 L1479.9,360.8Z" fill="#a0d28c" stroke="#86b878" stroke-width="0.5" stroke-linejoin="round"/>
<path d="M1497.2,352.2 L1500,350.4 L1500.7,351.8 L1498.6,353.6Z" fill="#a0d28c" stroke="#86b878" stroke-width="0.5" stroke-linejoin="round"/>
<ellipse cx="1402.1" cy="344.6" rx="3.9" ry="2.4" fill="#a0d28c" stroke="#86b878" stroke-width="0.5"/>
<g font-family="Liberation Sans, sans-serif" font-size="11.6" fill="#000" stroke="#000" stroke-width="0.3">
<text x="1409.4" y="71.9" text-anchor="middle" textLength="43.8" lengthAdjust="spacingAndGlyphs">Canarias</text>
<text x="1363.8" y="143.8" text-anchor="middle" textLength="60.9" lengthAdjust="spacingAndGlyphs">Guadeloupe</text>
<text x="1365.6" y="158.6" text-anchor="middle" textLength="54.8" lengthAdjust="spacingAndGlyphs">Martinique</text>
<text x="1461.8" y="143.8" text-anchor="middle" textLength="38.9" lengthAdjust="spacingAndGlyphs">Guyane</text>
<text x="1437.2" y="270.6" text-anchor="middle" textLength="41.6" lengthAdjust="spacingAndGlyphs">Mayotte</text>
<text x="1486.8" y="270.6" text-anchor="middle" textLength="40.8" lengthAdjust="spacingAndGlyphs">Réunion</text>
<text x="1382.3" y="320.6" text-anchor="middle" textLength="34" lengthAdjust="spacingAndGlyphs">Açores</text>
<text x="1484.6" y="320.6" text-anchor="middle" textLength="41.4" lengthAdjust="spacingAndGlyphs">Madeira</text>
</g>
<path d="M34.8,924.95 L75,920.85 C92,918.65 103,910.90 113.2,899.35 L113.2,900.25 C103,912.70 92,920.95 75,923.15 L34.8,927.65Z" fill="#b1b2b3"/>
<path d="M34.8,928.82 L75,924.72 C92,922.52 103,917.30 113.2,905.75 L113.2,906.65 C103,919.10 92,924.82 75,927.02 L34.8,931.52Z" fill="#b1b2b3"/>
<path d="M34.8,932.69 L75,928.59 C92,926.39 103,923.70 113.2,912.15 L113.2,913.05 C103,925.50 92,928.69 75,930.89 L34.8,935.39Z" fill="#b1b2b3"/>
<path d="M34.8,936.56 L75,932.46 C92,930.26 103,930.10 113.2,918.55 L113.2,919.45 C103,931.90 92,932.56 75,934.76 L34.8,939.26Z" fill="#b1b2b3"/>
<path d="M34.8,940.43 L75,936.33 C92,934.13 103,936.50 113.2,924.95 L113.2,925.85 C103,938.30 92,936.43 75,938.63 L34.8,943.13Z" fill="#b1b2b3"/>
<path d="M34.8,944.30 L67.5,941.28 L67.5,943.88 L34.8,947.00Z" fill="#b1b2b3"/>
<path d="M34.8,948.17 L67.5,945.54 L67.5,948.14 L34.8,950.87Z" fill="#b1b2b3"/>
<path d="M34.8,952.04 L67.5,949.79 L67.5,952.39 L34.8,954.74Z" fill="#b1b2b3"/>
<path d="M34.8,955.91 L67.5,954.04 L67.5,956.64 L34.8,958.61Z" fill="#b1b2b3"/>
<path d="M34.8,959.78 L67.5,958.30 L67.5,960.90 L34.8,962.48Z" fill="#b1b2b3"/>
<path d="M34.8,963.65 L67.5,962.55 L67.5,965.15 L34.8,966.35Z" fill="#b1b2b3"/>
<path d="M34.8,967.52 L67.5,966.80 L67.5,969.40 L34.8,970.22Z" fill="#b1b2b3"/>
<path d="M34.8,971.39 L67.5,971.06 L67.5,973.66 L34.8,974.09Z" fill="#b1b2b3"/>
<path d="M34.8,975.26 L67.5,975.31 L67.5,977.91 L34.8,977.96Z" fill="#b1b2b3"/>
<path d="M146.2,898.80 L149.5,904.70 L153.0,910.60 L158.3,921.37 L163.9,929.10 L169.3,932.81 L174.5,934.98 L180.0,936.40 L187.0,937.54 L193.9,938.50 L193.9,939.90 L187.0,938.95 L180.0,937.80 L174.5,936.55 L169.3,934.90 L163.9,931.73 L158.3,924.56 L153.0,914.32 L149.5,908.76 L146.2,903.20Z" fill="#b1b2b3"/>
<path d="M146.2,904.55 L149.5,910.03 L153.0,915.52 L158.3,925.53 L163.9,932.72 L169.3,936.17 L174.5,938.21 L180.0,939.53 L187.0,940.59 L193.9,941.48 L193.9,942.88 L187.0,941.99 L180.0,940.93 L174.5,939.78 L169.3,938.26 L163.9,935.35 L158.3,928.72 L153.0,919.24 L149.5,914.10 L146.2,908.95Z" fill="#b1b2b3"/>
<path d="M146.2,910.30 L149.5,915.36 L153.0,920.44 L158.3,929.68 L163.9,936.33 L169.3,939.54 L174.5,941.44 L180.0,942.66 L187.0,943.64 L193.9,944.46 L193.9,945.86 L187.0,945.04 L180.0,944.06 L174.5,943.01 L169.3,941.63 L163.9,938.96 L158.3,932.87 L153.0,924.16 L149.5,919.43 L146.2,914.70Z" fill="#b1b2b3"/>
<path d="M146.2,916.05 L149.5,920.70 L153.0,925.36 L158.3,933.84 L163.9,939.95 L169.3,942.91 L174.5,944.66 L180.0,945.80 L187.0,946.69 L193.9,947.44 L193.9,948.84 L187.0,948.09 L180.0,947.20 L174.5,946.23 L169.3,945.00 L163.9,942.58 L158.3,937.03 L153.0,929.08 L149.5,924.77 L146.2,920.45Z" fill="#b1b2b3"/>
<path d="M146.2,921.80 L149.5,926.03 L153.0,930.28 L158.3,938.00 L163.9,943.57 L169.3,946.28 L174.5,947.89 L180.0,948.93 L187.0,949.74 L193.9,950.42 L193.9,951.82 L187.0,951.14 L180.0,950.33 L174.5,949.46 L169.3,948.37 L163.9,946.20 L158.3,941.19 L153.0,934.00 L149.5,930.10 L146.2,926.20Z" fill="#b1b2b3"/>
<path d="M146.2,927.55 L149.5,931.37 L153.0,935.20 L158.3,942.16 L163.9,947.18 L169.3,949.65 L174.5,951.12 L180.0,952.06 L187.0,952.79 L193.9,953.40 L193.9,954.80 L187.0,954.19 L180.0,953.46 L174.5,952.69 L169.3,951.74 L163.9,949.81 L158.3,945.35 L153.0,938.92 L149.5,935.44 L146.2,931.95Z" fill="#b1b2b3"/>
<path d="M146.2,933.30 L149.5,936.70 L153.0,940.11 L158.3,946.31 L163.9,950.80 L169.3,953.01 L174.5,954.35 L180.0,955.19 L187.0,955.84 L193.9,956.38 L193.9,957.78 L187.0,957.24 L180.0,956.59 L174.5,955.92 L169.3,955.10 L163.9,953.43 L158.3,949.50 L153.0,943.83 L149.5,940.77 L146.2,937.70Z" fill="#b1b2b3"/>
<path d="M146.2,939.05 L149.5,942.04 L153.0,945.03 L158.3,950.47 L163.9,954.42 L169.3,956.38 L174.5,957.58 L180.0,958.33 L187.0,958.89 L193.9,959.36 L193.9,960.76 L187.0,960.29 L180.0,959.73 L174.5,959.15 L169.3,958.47 L163.9,957.05 L158.3,953.66 L153.0,948.75 L149.5,946.11 L146.2,943.45Z" fill="#b1b2b3"/>
<path d="M146.2,944.80 L149.5,947.37 L153.0,949.95 L158.3,954.63 L163.9,958.04 L169.3,959.75 L174.5,960.81 L180.0,961.46 L187.0,961.94 L193.9,962.34 L193.9,963.74 L187.0,963.34 L180.0,962.86 L174.5,962.38 L169.3,961.84 L163.9,960.67 L158.3,957.82 L153.0,953.67 L149.5,951.44 L146.2,949.20Z" fill="#b1b2b3"/>
<path d="M146.2,950.55 L149.5,952.71 L153.0,954.87 L158.3,958.79 L163.9,961.65 L169.3,963.12 L174.5,964.04 L180.0,964.59 L187.0,964.99 L193.9,965.32 L193.9,966.72 L187.0,966.39 L180.0,965.99 L174.5,965.61 L169.3,965.21 L163.9,964.28 L158.3,961.98 L153.0,958.59 L149.5,956.78 L146.2,954.95Z" fill="#b1b2b3"/>
<path d="M146.2,956.30 L149.5,958.04 L153.0,959.79 L158.3,962.94 L163.9,965.27 L169.3,966.49 L174.5,967.27 L180.0,967.72 L187.0,968.04 L193.9,968.30 L193.9,969.70 L187.0,969.44 L180.0,969.12 L174.5,968.84 L169.3,968.57 L163.9,967.90 L158.3,966.13 L153.0,963.51 L149.5,962.11 L146.2,960.70Z" fill="#b1b2b3"/>
<path d="M146.2,962.05 L149.5,963.37 L153.0,964.71 L158.3,967.10 L163.9,968.89 L169.3,969.85 L174.5,970.50 L180.0,970.85 L187.0,971.09 L193.9,971.28 L193.9,972.68 L187.0,972.49 L180.0,972.25 L174.5,972.07 L169.3,971.94 L163.9,971.52 L158.3,970.29 L153.0,968.43 L149.5,967.44 L146.2,966.45Z" fill="#b1b2b3"/>
<path d="M146.2,967.80 L149.5,968.71 L153.0,969.63 L158.3,971.26 L163.9,972.50 L169.3,973.22 L174.5,973.73 L180.0,973.99 L187.0,974.14 L193.9,974.26 L193.9,975.66 L187.0,975.54 L180.0,975.39 L174.5,975.30 L169.3,975.31 L163.9,975.13 L158.3,974.45 L153.0,973.35 L149.5,972.78 L146.2,972.20Z" fill="#b1b2b3"/>
<path d="M146.2,973.55 L149.5,974.04 L153.0,974.55 L158.3,975.41 L163.9,976.12 L169.3,976.59 L174.5,976.96 L180.0,977.12 L187.0,977.19 L193.9,977.24 L193.9,978.64 L187.0,978.59 L180.0,978.52 L174.5,978.53 L169.3,978.68 L163.9,978.75 L158.3,978.60 L153.0,978.27 L149.5,978.11 L146.2,977.95Z" fill="#b1b2b3"/>
<rect x="67.1" y="931.8" width="68.8" height="46.2" fill="#034ea2"/>
<polygon points="101.50,935.90 102.24,938.18 104.64,938.18 102.70,939.59 103.44,941.87 101.50,940.46 99.56,941.87 100.30,939.59 98.36,938.18 100.76,938.18" fill="#fff200"/>
<polygon points="109.15,937.95 109.89,940.23 112.29,940.23 110.35,941.64 111.09,943.92 109.15,942.51 107.21,943.92 107.95,941.64 106.01,940.23 108.41,940.23" fill="#fff200"/>
<polygon points="114.75,943.55 115.49,945.83 117.89,945.83 115.95,947.24 116.69,949.52 114.75,948.11 112.81,949.52 113.55,947.24 111.61,945.83 114.01,945.83" fill="#fff200"/>
<polygon points="116.80,951.20 117.54,953.48 119.94,953.48 118.00,954.89 118.74,957.17 116.80,955.76 114.86,957.17 115.60,954.89 113.66,953.48 116.06,953.48" fill="#fff200"/>
<polygon points="114.75,958.85 115.49,961.13 117.89,961.13 115.95,962.54 116.69,964.82 114.75,963.41 112.81,964.82 113.55,962.54 111.61,961.13 114.01,961.13" fill="#fff200"/>
<polygon points="109.15,964.45 109.89,966.73 112.29,966.73 110.35,968.14 111.09,970.42 109.15,969.01 107.21,970.42 107.95,968.14 106.01,966.73 108.41,966.73" fill="#fff200"/>
<polygon points="101.50,966.50 102.24,968.78 104.64,968.78 102.70,970.19 103.44,972.47 101.50,971.06 99.56,972.47 100.30,970.19 98.36,968.78 100.76,968.78" fill="#fff200"/>
<polygon points="93.85,964.45 94.59,966.73 96.99,966.73 95.05,968.14 95.79,970.42 93.85,969.01 91.91,970.42 92.65,968.14 90.71,966.73 93.11,966.73" fill="#fff200"/>
<polygon points="88.25,958.85 88.99,961.13 91.39,961.13 89.45,962.54 90.19,964.82 88.25,963.41 86.31,964.82 87.05,962.54 85.11,961.13 87.51,961.13" fill="#fff200"/>
<polygon points="86.20,951.20 86.94,953.48 89.34,953.48 87.40,954.89 88.14,957.17 86.20,955.76 84.26,957.17 85.00,954.89 83.06,953.48 85.46,953.48" fill="#fff200"/>
<polygon points="88.25,943.55 88.99,945.83 91.39,945.83 89.45,947.24 90.19,949.52 88.25,948.11 86.31,949.52 87.05,947.24 85.11,945.83 87.51,945.83" fill="#fff200"/>
<polygon points="93.85,937.95 94.59,940.23 96.99,940.23 95.05,941.64 95.79,943.92 93.85,942.51 91.91,943.92 92.65,941.64 90.71,940.23 93.11,940.23" fill="#fff200"/>
<rect x="331" y="931.8" width="4.1" height="46.2" fill="#034ea2"/>
</svg>
<div id="title"><span class="tw" style="left:115px;transform:scaleX(0.8611)">EUROPEAN</span> <span class="tw" style="left:331.5px;transform:scaleX(0.9397)">INNOVATION</span> <span class="tw" style="left:584.5px;transform:scaleX(0.8478)">SCOREBOARD</span> <span class="tw" style="left:854px;transform:scaleX(1.065)">2020</span></div>
<div id="sub">Innovation performance groups</div>
<div class="lg" style="top:471px;background:#00704a"></div><div class="lt" style="top:472.6px">Innovation Leader</div>
<div class="lg" style="top:518.2px;background:#a0d28c"></div><div class="lt" style="top:519.8px">Strong Innovator</div>
<div class="lg" style="top:565.4px;background:#fff200"></div><div class="lt" style="top:567px">Moderate Innovator</div>
<div class="lg" style="top:612.6px;background:#f7991c"></div><div class="lt" style="top:614.2px">Modest Innovator</div>
<div id="ec">European<br>Commission</div>
</body></html>
